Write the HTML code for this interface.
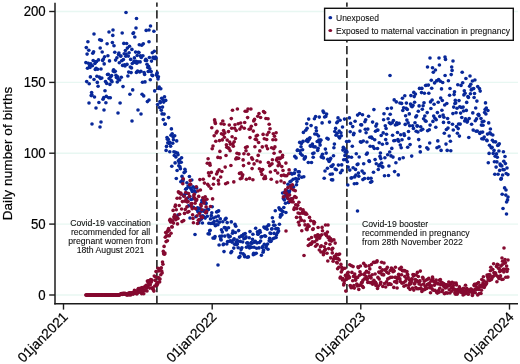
<!DOCTYPE html>
<html><head><meta charset="utf-8"><title>chart</title>
<style>
html,body{margin:0;padding:0;background:#fff;}
svg{display:block;font-family:"Liberation Sans",sans-serif;will-change:transform;opacity:0.9999;}
text{fill:#000;stroke:#000;stroke-width:0.2px;}
.sm text, text.sm{stroke-width:0.08px;fill:#111;}
</style></head><body>
<svg width="520" height="364" viewBox="0 0 520 364">
<rect width="520" height="364" fill="#fff"/>
<line x1="56" x2="518" y1="295.0" y2="295.0" stroke="#e8f7f2" stroke-width="1.4"/><line x1="56" x2="518" y1="224.1" y2="224.1" stroke="#e8f7f2" stroke-width="1.4"/><line x1="56" x2="518" y1="153.2" y2="153.2" stroke="#e8f7f2" stroke-width="1.4"/><line x1="56" x2="518" y1="82.4" y2="82.4" stroke="#e8f7f2" stroke-width="1.4"/><line x1="56" x2="518" y1="11.5" y2="11.5" stroke="#e8f7f2" stroke-width="1.4"/>
<line x1="156.9" x2="156.9" y1="2.6" y2="303.5" stroke="#111" stroke-width="1.5" stroke-dasharray="8.4 3.5" stroke-dashoffset="4.3"/>
<line x1="346.9" x2="346.9" y1="2.6" y2="303.5" stroke="#111" stroke-width="1.5" stroke-dasharray="8.4 3.5" stroke-dashoffset="4.3"/>
<g>
<circle cx="85.9" cy="62.6" r="1.82" fill="#08289a"/><circle cx="86.3" cy="47.6" r="1.82" fill="#08289a"/><circle cx="86.7" cy="81.6" r="1.82" fill="#08289a"/><circle cx="87.1" cy="54.1" r="1.82" fill="#08289a"/><circle cx="87.5" cy="68.3" r="1.82" fill="#08289a"/><circle cx="87.9" cy="41.8" r="1.82" fill="#08289a"/><circle cx="88.3" cy="63.3" r="1.82" fill="#08289a"/><circle cx="88.8" cy="50.3" r="1.82" fill="#08289a"/><circle cx="89.2" cy="83.7" r="1.82" fill="#08289a"/><circle cx="89.6" cy="65.9" r="1.82" fill="#08289a"/><circle cx="90.0" cy="67.4" r="1.82" fill="#08289a"/><circle cx="90.4" cy="76.9" r="1.82" fill="#08289a"/><circle cx="90.8" cy="63.8" r="1.82" fill="#08289a"/><circle cx="91.2" cy="95.6" r="1.82" fill="#08289a"/><circle cx="91.6" cy="92.6" r="1.82" fill="#08289a"/><circle cx="92.0" cy="95.1" r="1.82" fill="#08289a"/><circle cx="92.4" cy="65.7" r="1.82" fill="#08289a"/><circle cx="92.8" cy="53.2" r="1.82" fill="#08289a"/><circle cx="93.2" cy="60.5" r="1.82" fill="#08289a"/><circle cx="93.6" cy="51.8" r="1.82" fill="#08289a"/><circle cx="94.0" cy="79.5" r="1.82" fill="#08289a"/><circle cx="94.5" cy="97.0" r="1.82" fill="#08289a"/><circle cx="94.9" cy="63.5" r="1.82" fill="#08289a"/><circle cx="95.3" cy="69.4" r="1.82" fill="#08289a"/><circle cx="95.7" cy="61.9" r="1.82" fill="#08289a"/><circle cx="96.1" cy="68.4" r="1.82" fill="#08289a"/><circle cx="96.5" cy="61.6" r="1.82" fill="#08289a"/><circle cx="96.9" cy="76.3" r="1.82" fill="#08289a"/><circle cx="97.3" cy="82.4" r="1.82" fill="#08289a"/><circle cx="97.7" cy="69.2" r="1.82" fill="#08289a"/><circle cx="98.1" cy="86.3" r="1.82" fill="#08289a"/><circle cx="98.5" cy="59.9" r="1.82" fill="#08289a"/><circle cx="98.9" cy="102.5" r="1.82" fill="#08289a"/><circle cx="99.3" cy="77.1" r="1.82" fill="#08289a"/><circle cx="99.7" cy="39.7" r="1.82" fill="#08289a"/><circle cx="100.2" cy="48.0" r="1.82" fill="#08289a"/><circle cx="100.6" cy="78.5" r="1.82" fill="#08289a"/><circle cx="101.0" cy="69.0" r="1.82" fill="#08289a"/><circle cx="101.4" cy="40.4" r="1.82" fill="#08289a"/><circle cx="101.8" cy="78.0" r="1.82" fill="#08289a"/><circle cx="102.2" cy="52.0" r="1.82" fill="#08289a"/><circle cx="102.6" cy="60.4" r="1.82" fill="#08289a"/><circle cx="103.0" cy="99.2" r="1.82" fill="#08289a"/><circle cx="103.4" cy="59.1" r="1.82" fill="#08289a"/><circle cx="103.8" cy="97.5" r="1.82" fill="#08289a"/><circle cx="104.2" cy="63.9" r="1.82" fill="#08289a"/><circle cx="104.6" cy="56.8" r="1.82" fill="#08289a"/><circle cx="105.0" cy="90.7" r="1.82" fill="#08289a"/><circle cx="105.5" cy="81.6" r="1.82" fill="#08289a"/><circle cx="105.9" cy="102.7" r="1.82" fill="#08289a"/><circle cx="106.3" cy="96.4" r="1.82" fill="#08289a"/><circle cx="106.7" cy="83.4" r="1.82" fill="#08289a"/><circle cx="107.1" cy="43.8" r="1.82" fill="#08289a"/><circle cx="107.5" cy="74.5" r="1.82" fill="#08289a"/><circle cx="107.9" cy="55.7" r="1.82" fill="#08289a"/><circle cx="108.3" cy="74.4" r="1.82" fill="#08289a"/><circle cx="108.7" cy="97.8" r="1.82" fill="#08289a"/><circle cx="109.1" cy="78.5" r="1.82" fill="#08289a"/><circle cx="109.5" cy="60.9" r="1.82" fill="#08289a"/><circle cx="109.9" cy="84.4" r="1.82" fill="#08289a"/><circle cx="110.3" cy="97.7" r="1.82" fill="#08289a"/><circle cx="110.7" cy="76.7" r="1.82" fill="#08289a"/><circle cx="111.2" cy="80.4" r="1.82" fill="#08289a"/><circle cx="111.6" cy="75.6" r="1.82" fill="#08289a"/><circle cx="112.0" cy="81.8" r="1.82" fill="#08289a"/><circle cx="112.4" cy="42.6" r="1.82" fill="#08289a"/><circle cx="112.8" cy="35.4" r="1.82" fill="#08289a"/><circle cx="113.2" cy="71.1" r="1.82" fill="#08289a"/><circle cx="113.6" cy="69.8" r="1.82" fill="#08289a"/><circle cx="114.0" cy="45.7" r="1.82" fill="#08289a"/><circle cx="114.4" cy="71.7" r="1.82" fill="#08289a"/><circle cx="114.8" cy="52.3" r="1.82" fill="#08289a"/><circle cx="115.2" cy="71.3" r="1.82" fill="#08289a"/><circle cx="115.6" cy="60.1" r="1.82" fill="#08289a"/><circle cx="116.0" cy="75.3" r="1.82" fill="#08289a"/><circle cx="116.4" cy="77.4" r="1.82" fill="#08289a"/><circle cx="116.9" cy="57.8" r="1.82" fill="#08289a"/><circle cx="117.3" cy="82.0" r="1.82" fill="#08289a"/><circle cx="117.7" cy="76.9" r="1.82" fill="#08289a"/><circle cx="118.1" cy="79.1" r="1.82" fill="#08289a"/><circle cx="118.5" cy="54.6" r="1.82" fill="#08289a"/><circle cx="118.9" cy="53.0" r="1.82" fill="#08289a"/><circle cx="119.3" cy="62.7" r="1.82" fill="#08289a"/><circle cx="119.7" cy="80.0" r="1.82" fill="#08289a"/><circle cx="120.1" cy="103.0" r="1.82" fill="#08289a"/><circle cx="120.5" cy="56.0" r="1.82" fill="#08289a"/><circle cx="120.9" cy="56.1" r="1.82" fill="#08289a"/><circle cx="121.3" cy="77.3" r="1.82" fill="#08289a"/><circle cx="121.7" cy="60.8" r="1.82" fill="#08289a"/><circle cx="122.2" cy="33.0" r="1.82" fill="#08289a"/><circle cx="122.6" cy="65.4" r="1.82" fill="#08289a"/><circle cx="123.0" cy="86.6" r="1.82" fill="#08289a"/><circle cx="123.4" cy="59.6" r="1.82" fill="#08289a"/><circle cx="123.8" cy="43.4" r="1.82" fill="#08289a"/><circle cx="124.2" cy="53.8" r="1.82" fill="#08289a"/><circle cx="124.6" cy="64.7" r="1.82" fill="#08289a"/><circle cx="125.0" cy="65.9" r="1.82" fill="#08289a"/><circle cx="125.4" cy="50.5" r="1.82" fill="#08289a"/><circle cx="125.8" cy="56.2" r="1.82" fill="#08289a"/><circle cx="126.2" cy="54.1" r="1.82" fill="#08289a"/><circle cx="126.6" cy="43.5" r="1.82" fill="#08289a"/><circle cx="127.0" cy="64.4" r="1.82" fill="#08289a"/><circle cx="127.4" cy="48.1" r="1.82" fill="#08289a"/><circle cx="127.9" cy="76.0" r="1.82" fill="#08289a"/><circle cx="128.3" cy="56.1" r="1.82" fill="#08289a"/><circle cx="128.7" cy="72.1" r="1.82" fill="#08289a"/><circle cx="129.1" cy="52.8" r="1.82" fill="#08289a"/><circle cx="129.5" cy="46.2" r="1.82" fill="#08289a"/><circle cx="129.9" cy="94.3" r="1.82" fill="#08289a"/><circle cx="130.3" cy="67.0" r="1.82" fill="#08289a"/><circle cx="130.7" cy="59.4" r="1.82" fill="#08289a"/><circle cx="131.1" cy="72.6" r="1.82" fill="#08289a"/><circle cx="131.5" cy="67.9" r="1.82" fill="#08289a"/><circle cx="131.9" cy="49.4" r="1.82" fill="#08289a"/><circle cx="132.3" cy="63.5" r="1.82" fill="#08289a"/><circle cx="132.7" cy="89.9" r="1.82" fill="#08289a"/><circle cx="133.1" cy="33.5" r="1.82" fill="#08289a"/><circle cx="133.6" cy="32.8" r="1.82" fill="#08289a"/><circle cx="134.0" cy="61.3" r="1.82" fill="#08289a"/><circle cx="134.4" cy="57.9" r="1.82" fill="#08289a"/><circle cx="134.8" cy="37.0" r="1.82" fill="#08289a"/><circle cx="135.2" cy="62.4" r="1.82" fill="#08289a"/><circle cx="135.6" cy="52.1" r="1.82" fill="#08289a"/><circle cx="136.0" cy="61.3" r="1.82" fill="#08289a"/><circle cx="136.4" cy="72.4" r="1.82" fill="#08289a"/><circle cx="136.8" cy="63.3" r="1.82" fill="#08289a"/><circle cx="137.2" cy="55.5" r="1.82" fill="#08289a"/><circle cx="137.6" cy="71.1" r="1.82" fill="#08289a"/><circle cx="138.0" cy="61.8" r="1.82" fill="#08289a"/><circle cx="138.4" cy="52.3" r="1.82" fill="#08289a"/><circle cx="138.9" cy="52.6" r="1.82" fill="#08289a"/><circle cx="139.3" cy="44.7" r="1.82" fill="#08289a"/><circle cx="139.7" cy="72.0" r="1.82" fill="#08289a"/><circle cx="140.1" cy="61.9" r="1.82" fill="#08289a"/><circle cx="140.5" cy="55.9" r="1.82" fill="#08289a"/><circle cx="140.9" cy="71.2" r="1.82" fill="#08289a"/><circle cx="141.3" cy="57.4" r="1.82" fill="#08289a"/><circle cx="141.7" cy="45.3" r="1.82" fill="#08289a"/><circle cx="142.1" cy="94.3" r="1.82" fill="#08289a"/><circle cx="142.5" cy="82.2" r="1.82" fill="#08289a"/><circle cx="142.9" cy="55.7" r="1.82" fill="#08289a"/><circle cx="143.3" cy="43.7" r="1.82" fill="#08289a"/><circle cx="143.7" cy="95.9" r="1.82" fill="#08289a"/><circle cx="144.1" cy="72.6" r="1.82" fill="#08289a"/><circle cx="144.6" cy="74.4" r="1.82" fill="#08289a"/><circle cx="145.0" cy="81.9" r="1.82" fill="#08289a"/><circle cx="145.4" cy="60.5" r="1.82" fill="#08289a"/><circle cx="145.8" cy="59.3" r="1.82" fill="#08289a"/><circle cx="146.2" cy="30.4" r="1.82" fill="#08289a"/><circle cx="146.6" cy="60.5" r="1.82" fill="#08289a"/><circle cx="147.0" cy="64.3" r="1.82" fill="#08289a"/><circle cx="147.4" cy="101.6" r="1.82" fill="#08289a"/><circle cx="147.8" cy="67.4" r="1.82" fill="#08289a"/><circle cx="148.2" cy="71.5" r="1.82" fill="#08289a"/><circle cx="148.6" cy="66.3" r="1.82" fill="#08289a"/><circle cx="149.0" cy="41.8" r="1.82" fill="#08289a"/><circle cx="149.4" cy="57.5" r="1.82" fill="#08289a"/><circle cx="149.8" cy="68.8" r="1.82" fill="#08289a"/><circle cx="150.3" cy="79.7" r="1.82" fill="#08289a"/><circle cx="150.7" cy="71.5" r="1.82" fill="#08289a"/><circle cx="151.1" cy="71.5" r="1.82" fill="#08289a"/><circle cx="151.5" cy="61.1" r="1.82" fill="#08289a"/><circle cx="151.9" cy="75.1" r="1.82" fill="#08289a"/><circle cx="152.3" cy="52.8" r="1.82" fill="#08289a"/><circle cx="152.7" cy="75.6" r="1.82" fill="#08289a"/><circle cx="153.1" cy="57.4" r="1.82" fill="#08289a"/><circle cx="153.5" cy="58.2" r="1.82" fill="#08289a"/><circle cx="153.9" cy="31.2" r="1.82" fill="#08289a"/><circle cx="154.3" cy="51.2" r="1.82" fill="#08289a"/><circle cx="154.7" cy="90.9" r="1.82" fill="#08289a"/><circle cx="155.1" cy="58.6" r="1.82" fill="#08289a"/><circle cx="155.5" cy="57.0" r="1.82" fill="#08289a"/><circle cx="156.0" cy="57.7" r="1.82" fill="#08289a"/><circle cx="156.4" cy="75.1" r="1.82" fill="#08289a"/><circle cx="156.8" cy="74.1" r="1.82" fill="#08289a"/><circle cx="157.2" cy="72.9" r="1.82" fill="#08289a"/><circle cx="157.6" cy="104.6" r="1.82" fill="#08289a"/><circle cx="158.0" cy="78.9" r="1.82" fill="#08289a"/><circle cx="158.4" cy="76.7" r="1.82" fill="#08289a"/><circle cx="158.8" cy="88.5" r="1.82" fill="#08289a"/><circle cx="159.2" cy="87.0" r="1.82" fill="#08289a"/><circle cx="159.6" cy="107.6" r="1.82" fill="#08289a"/><circle cx="160.0" cy="101.5" r="1.82" fill="#08289a"/><circle cx="160.4" cy="102.6" r="1.82" fill="#08289a"/><circle cx="160.8" cy="88.7" r="1.82" fill="#08289a"/><circle cx="161.3" cy="110.2" r="1.82" fill="#08289a"/><circle cx="161.7" cy="98.3" r="1.82" fill="#08289a"/><circle cx="162.1" cy="113.9" r="1.82" fill="#08289a"/><circle cx="162.5" cy="107.1" r="1.82" fill="#08289a"/><circle cx="162.9" cy="99.8" r="1.82" fill="#08289a"/><circle cx="163.3" cy="119.6" r="1.82" fill="#08289a"/><circle cx="163.7" cy="102.1" r="1.82" fill="#08289a"/><circle cx="164.1" cy="114.1" r="1.82" fill="#08289a"/><circle cx="164.5" cy="96.7" r="1.82" fill="#08289a"/><circle cx="164.9" cy="124.2" r="1.82" fill="#08289a"/><circle cx="165.3" cy="124.0" r="1.82" fill="#08289a"/><circle cx="165.7" cy="100.4" r="1.82" fill="#08289a"/><circle cx="166.1" cy="150.4" r="1.82" fill="#08289a"/><circle cx="166.5" cy="146.4" r="1.82" fill="#08289a"/><circle cx="167.0" cy="137.6" r="1.82" fill="#08289a"/><circle cx="167.4" cy="139.3" r="1.82" fill="#08289a"/><circle cx="167.8" cy="142.7" r="1.82" fill="#08289a"/><circle cx="168.2" cy="139.2" r="1.82" fill="#08289a"/><circle cx="168.6" cy="117.6" r="1.82" fill="#08289a"/><circle cx="169.0" cy="143.5" r="1.82" fill="#08289a"/><circle cx="169.4" cy="142.0" r="1.82" fill="#08289a"/><circle cx="169.8" cy="151.7" r="1.82" fill="#08289a"/><circle cx="170.2" cy="142.9" r="1.82" fill="#08289a"/><circle cx="170.6" cy="146.2" r="1.82" fill="#08289a"/><circle cx="171.0" cy="135.2" r="1.82" fill="#08289a"/><circle cx="171.4" cy="128.9" r="1.82" fill="#08289a"/><circle cx="171.8" cy="166.3" r="1.82" fill="#08289a"/><circle cx="172.2" cy="133.7" r="1.82" fill="#08289a"/><circle cx="172.7" cy="143.3" r="1.82" fill="#08289a"/><circle cx="173.1" cy="137.1" r="1.82" fill="#08289a"/><circle cx="173.5" cy="139.7" r="1.82" fill="#08289a"/><circle cx="173.9" cy="151.8" r="1.82" fill="#08289a"/><circle cx="174.3" cy="155.5" r="1.82" fill="#08289a"/><circle cx="174.7" cy="135.7" r="1.82" fill="#08289a"/><circle cx="175.1" cy="162.9" r="1.82" fill="#08289a"/><circle cx="175.5" cy="152.4" r="1.82" fill="#08289a"/><circle cx="175.9" cy="156.9" r="1.82" fill="#08289a"/><circle cx="176.3" cy="178.5" r="1.82" fill="#08289a"/><circle cx="176.7" cy="140.9" r="1.82" fill="#08289a"/><circle cx="177.1" cy="170.5" r="1.82" fill="#08289a"/><circle cx="177.5" cy="153.0" r="1.82" fill="#08289a"/><circle cx="178.0" cy="154.8" r="1.82" fill="#08289a"/><circle cx="178.4" cy="160.7" r="1.82" fill="#08289a"/><circle cx="178.8" cy="165.7" r="1.82" fill="#08289a"/><circle cx="179.2" cy="162.8" r="1.82" fill="#08289a"/><circle cx="179.6" cy="159.6" r="1.82" fill="#08289a"/><circle cx="180.0" cy="166.9" r="1.82" fill="#08289a"/><circle cx="180.4" cy="168.7" r="1.82" fill="#08289a"/><circle cx="180.8" cy="181.8" r="1.82" fill="#08289a"/><circle cx="181.2" cy="162.2" r="1.82" fill="#08289a"/><circle cx="181.6" cy="157.8" r="1.82" fill="#08289a"/><circle cx="182.0" cy="176.4" r="1.82" fill="#08289a"/><circle cx="182.4" cy="180.0" r="1.82" fill="#08289a"/><circle cx="182.8" cy="181.8" r="1.82" fill="#08289a"/><circle cx="183.2" cy="179.8" r="1.82" fill="#08289a"/><circle cx="183.7" cy="195.9" r="1.82" fill="#08289a"/><circle cx="184.1" cy="172.6" r="1.82" fill="#08289a"/><circle cx="184.5" cy="194.8" r="1.82" fill="#08289a"/><circle cx="184.9" cy="169.2" r="1.82" fill="#08289a"/><circle cx="185.3" cy="171.6" r="1.82" fill="#08289a"/><circle cx="185.7" cy="189.3" r="1.82" fill="#08289a"/><circle cx="186.1" cy="193.3" r="1.82" fill="#08289a"/><circle cx="186.5" cy="188.5" r="1.82" fill="#08289a"/><circle cx="186.9" cy="182.7" r="1.82" fill="#08289a"/><circle cx="187.3" cy="193.3" r="1.82" fill="#08289a"/><circle cx="187.7" cy="198.1" r="1.82" fill="#08289a"/><circle cx="188.1" cy="186.1" r="1.82" fill="#08289a"/><circle cx="188.5" cy="205.9" r="1.82" fill="#08289a"/><circle cx="188.9" cy="187.0" r="1.82" fill="#08289a"/><circle cx="189.4" cy="176.5" r="1.82" fill="#08289a"/><circle cx="189.8" cy="196.2" r="1.82" fill="#08289a"/><circle cx="190.2" cy="184.3" r="1.82" fill="#08289a"/><circle cx="190.6" cy="188.1" r="1.82" fill="#08289a"/><circle cx="191.0" cy="199.5" r="1.82" fill="#08289a"/><circle cx="191.4" cy="189.5" r="1.82" fill="#08289a"/><circle cx="191.8" cy="180.0" r="1.82" fill="#08289a"/><circle cx="192.2" cy="191.5" r="1.82" fill="#08289a"/><circle cx="192.6" cy="199.0" r="1.82" fill="#08289a"/><circle cx="193.0" cy="186.9" r="1.82" fill="#08289a"/><circle cx="193.4" cy="207.4" r="1.82" fill="#08289a"/><circle cx="193.8" cy="198.2" r="1.82" fill="#08289a"/><circle cx="194.2" cy="190.9" r="1.82" fill="#08289a"/><circle cx="194.7" cy="187.8" r="1.82" fill="#08289a"/><circle cx="195.1" cy="191.8" r="1.82" fill="#08289a"/><circle cx="195.5" cy="192.0" r="1.82" fill="#08289a"/><circle cx="195.9" cy="216.8" r="1.82" fill="#08289a"/><circle cx="196.3" cy="200.3" r="1.82" fill="#08289a"/><circle cx="196.7" cy="187.9" r="1.82" fill="#08289a"/><circle cx="197.1" cy="209.7" r="1.82" fill="#08289a"/><circle cx="197.5" cy="207.9" r="1.82" fill="#08289a"/><circle cx="197.9" cy="211.8" r="1.82" fill="#08289a"/><circle cx="198.3" cy="208.5" r="1.82" fill="#08289a"/><circle cx="198.7" cy="223.0" r="1.82" fill="#08289a"/><circle cx="199.1" cy="212.5" r="1.82" fill="#08289a"/><circle cx="199.5" cy="220.5" r="1.82" fill="#08289a"/><circle cx="199.9" cy="208.4" r="1.82" fill="#08289a"/><circle cx="200.4" cy="211.7" r="1.82" fill="#08289a"/><circle cx="200.8" cy="216.1" r="1.82" fill="#08289a"/><circle cx="201.2" cy="219.2" r="1.82" fill="#08289a"/><circle cx="201.6" cy="202.7" r="1.82" fill="#08289a"/><circle cx="202.0" cy="200.2" r="1.82" fill="#08289a"/><circle cx="202.4" cy="223.0" r="1.82" fill="#08289a"/><circle cx="202.8" cy="215.9" r="1.82" fill="#08289a"/><circle cx="203.2" cy="211.1" r="1.82" fill="#08289a"/><circle cx="203.6" cy="216.9" r="1.82" fill="#08289a"/><circle cx="204.0" cy="210.3" r="1.82" fill="#08289a"/><circle cx="204.4" cy="217.2" r="1.82" fill="#08289a"/><circle cx="204.8" cy="211.5" r="1.82" fill="#08289a"/><circle cx="205.2" cy="218.1" r="1.82" fill="#08289a"/><circle cx="205.6" cy="202.8" r="1.82" fill="#08289a"/><circle cx="206.1" cy="203.5" r="1.82" fill="#08289a"/><circle cx="206.5" cy="212.7" r="1.82" fill="#08289a"/><circle cx="206.9" cy="210.1" r="1.82" fill="#08289a"/><circle cx="207.3" cy="216.2" r="1.82" fill="#08289a"/><circle cx="207.7" cy="209.2" r="1.82" fill="#08289a"/><circle cx="208.1" cy="233.7" r="1.82" fill="#08289a"/><circle cx="208.5" cy="209.6" r="1.82" fill="#08289a"/><circle cx="208.9" cy="223.2" r="1.82" fill="#08289a"/><circle cx="209.3" cy="233.9" r="1.82" fill="#08289a"/><circle cx="209.7" cy="230.7" r="1.82" fill="#08289a"/><circle cx="210.1" cy="230.3" r="1.82" fill="#08289a"/><circle cx="210.5" cy="218.9" r="1.82" fill="#08289a"/><circle cx="210.9" cy="223.5" r="1.82" fill="#08289a"/><circle cx="211.3" cy="215.6" r="1.82" fill="#08289a"/><circle cx="211.8" cy="212.7" r="1.82" fill="#08289a"/><circle cx="212.2" cy="206.7" r="1.82" fill="#08289a"/><circle cx="212.6" cy="223.1" r="1.82" fill="#08289a"/><circle cx="213.0" cy="238.1" r="1.82" fill="#08289a"/><circle cx="213.4" cy="218.0" r="1.82" fill="#08289a"/><circle cx="213.8" cy="223.7" r="1.82" fill="#08289a"/><circle cx="214.2" cy="221.5" r="1.82" fill="#08289a"/><circle cx="214.6" cy="238.1" r="1.82" fill="#08289a"/><circle cx="215.0" cy="236.6" r="1.82" fill="#08289a"/><circle cx="215.4" cy="225.8" r="1.82" fill="#08289a"/><circle cx="215.8" cy="217.0" r="1.82" fill="#08289a"/><circle cx="216.2" cy="224.8" r="1.82" fill="#08289a"/><circle cx="216.6" cy="212.0" r="1.82" fill="#08289a"/><circle cx="217.1" cy="220.9" r="1.82" fill="#08289a"/><circle cx="217.5" cy="211.5" r="1.82" fill="#08289a"/><circle cx="217.9" cy="224.7" r="1.82" fill="#08289a"/><circle cx="218.3" cy="216.1" r="1.82" fill="#08289a"/><circle cx="218.7" cy="210.9" r="1.82" fill="#08289a"/><circle cx="219.1" cy="245.0" r="1.82" fill="#08289a"/><circle cx="219.5" cy="222.3" r="1.82" fill="#08289a"/><circle cx="219.9" cy="236.2" r="1.82" fill="#08289a"/><circle cx="220.3" cy="218.9" r="1.82" fill="#08289a"/><circle cx="220.7" cy="238.9" r="1.82" fill="#08289a"/><circle cx="221.1" cy="240.0" r="1.82" fill="#08289a"/><circle cx="221.5" cy="229.7" r="1.82" fill="#08289a"/><circle cx="221.9" cy="236.1" r="1.82" fill="#08289a"/><circle cx="222.3" cy="232.0" r="1.82" fill="#08289a"/><circle cx="222.8" cy="221.7" r="1.82" fill="#08289a"/><circle cx="223.2" cy="244.8" r="1.82" fill="#08289a"/><circle cx="223.6" cy="244.0" r="1.82" fill="#08289a"/><circle cx="224.0" cy="251.6" r="1.82" fill="#08289a"/><circle cx="224.4" cy="227.6" r="1.82" fill="#08289a"/><circle cx="224.8" cy="236.1" r="1.82" fill="#08289a"/><circle cx="225.2" cy="219.4" r="1.82" fill="#08289a"/><circle cx="225.6" cy="227.9" r="1.82" fill="#08289a"/><circle cx="226.0" cy="218.3" r="1.82" fill="#08289a"/><circle cx="226.4" cy="230.0" r="1.82" fill="#08289a"/><circle cx="226.8" cy="244.0" r="1.82" fill="#08289a"/><circle cx="227.2" cy="222.6" r="1.82" fill="#08289a"/><circle cx="227.6" cy="241.6" r="1.82" fill="#08289a"/><circle cx="228.0" cy="235.0" r="1.82" fill="#08289a"/><circle cx="228.5" cy="227.7" r="1.82" fill="#08289a"/><circle cx="228.9" cy="237.0" r="1.82" fill="#08289a"/><circle cx="229.3" cy="241.2" r="1.82" fill="#08289a"/><circle cx="229.7" cy="236.4" r="1.82" fill="#08289a"/><circle cx="230.1" cy="236.5" r="1.82" fill="#08289a"/><circle cx="230.5" cy="240.9" r="1.82" fill="#08289a"/><circle cx="230.9" cy="252.8" r="1.82" fill="#08289a"/><circle cx="231.3" cy="221.9" r="1.82" fill="#08289a"/><circle cx="231.7" cy="251.5" r="1.82" fill="#08289a"/><circle cx="232.1" cy="242.2" r="1.82" fill="#08289a"/><circle cx="232.5" cy="233.2" r="1.82" fill="#08289a"/><circle cx="232.9" cy="231.0" r="1.82" fill="#08289a"/><circle cx="233.3" cy="240.0" r="1.82" fill="#08289a"/><circle cx="233.8" cy="248.1" r="1.82" fill="#08289a"/><circle cx="234.2" cy="238.9" r="1.82" fill="#08289a"/><circle cx="234.6" cy="244.2" r="1.82" fill="#08289a"/><circle cx="235.0" cy="224.4" r="1.82" fill="#08289a"/><circle cx="235.4" cy="232.5" r="1.82" fill="#08289a"/><circle cx="235.8" cy="226.3" r="1.82" fill="#08289a"/><circle cx="236.2" cy="242.1" r="1.82" fill="#08289a"/><circle cx="236.6" cy="244.8" r="1.82" fill="#08289a"/><circle cx="237.0" cy="240.1" r="1.82" fill="#08289a"/><circle cx="237.4" cy="243.9" r="1.82" fill="#08289a"/><circle cx="237.8" cy="241.3" r="1.82" fill="#08289a"/><circle cx="238.2" cy="247.8" r="1.82" fill="#08289a"/><circle cx="238.6" cy="230.6" r="1.82" fill="#08289a"/><circle cx="239.0" cy="257.4" r="1.82" fill="#08289a"/><circle cx="239.5" cy="237.1" r="1.82" fill="#08289a"/><circle cx="239.9" cy="256.6" r="1.82" fill="#08289a"/><circle cx="240.3" cy="241.4" r="1.82" fill="#08289a"/><circle cx="240.7" cy="253.0" r="1.82" fill="#08289a"/><circle cx="241.1" cy="249.4" r="1.82" fill="#08289a"/><circle cx="241.5" cy="235.9" r="1.82" fill="#08289a"/><circle cx="241.9" cy="247.8" r="1.82" fill="#08289a"/><circle cx="242.3" cy="236.2" r="1.82" fill="#08289a"/><circle cx="242.7" cy="242.0" r="1.82" fill="#08289a"/><circle cx="243.1" cy="253.8" r="1.82" fill="#08289a"/><circle cx="243.5" cy="234.4" r="1.82" fill="#08289a"/><circle cx="243.9" cy="238.8" r="1.82" fill="#08289a"/><circle cx="244.3" cy="255.1" r="1.82" fill="#08289a"/><circle cx="244.7" cy="256.7" r="1.82" fill="#08289a"/><circle cx="245.2" cy="233.6" r="1.82" fill="#08289a"/><circle cx="245.6" cy="238.1" r="1.82" fill="#08289a"/><circle cx="246.0" cy="236.9" r="1.82" fill="#08289a"/><circle cx="246.4" cy="247.3" r="1.82" fill="#08289a"/><circle cx="246.8" cy="243.0" r="1.82" fill="#08289a"/><circle cx="247.2" cy="257.2" r="1.82" fill="#08289a"/><circle cx="247.6" cy="242.9" r="1.82" fill="#08289a"/><circle cx="248.0" cy="246.6" r="1.82" fill="#08289a"/><circle cx="248.4" cy="256.9" r="1.82" fill="#08289a"/><circle cx="248.8" cy="245.9" r="1.82" fill="#08289a"/><circle cx="249.2" cy="237.8" r="1.82" fill="#08289a"/><circle cx="249.6" cy="248.0" r="1.82" fill="#08289a"/><circle cx="250.0" cy="231.6" r="1.82" fill="#08289a"/><circle cx="250.5" cy="246.9" r="1.82" fill="#08289a"/><circle cx="250.9" cy="243.3" r="1.82" fill="#08289a"/><circle cx="251.3" cy="242.6" r="1.82" fill="#08289a"/><circle cx="251.7" cy="247.3" r="1.82" fill="#08289a"/><circle cx="252.1" cy="243.2" r="1.82" fill="#08289a"/><circle cx="252.5" cy="239.4" r="1.82" fill="#08289a"/><circle cx="252.9" cy="234.3" r="1.82" fill="#08289a"/><circle cx="253.3" cy="254.7" r="1.82" fill="#08289a"/><circle cx="253.7" cy="253.2" r="1.82" fill="#08289a"/><circle cx="254.1" cy="247.2" r="1.82" fill="#08289a"/><circle cx="254.5" cy="242.2" r="1.82" fill="#08289a"/><circle cx="254.9" cy="254.0" r="1.82" fill="#08289a"/><circle cx="255.3" cy="241.2" r="1.82" fill="#08289a"/><circle cx="255.7" cy="228.2" r="1.82" fill="#08289a"/><circle cx="256.2" cy="253.3" r="1.82" fill="#08289a"/><circle cx="256.6" cy="248.2" r="1.82" fill="#08289a"/><circle cx="257.0" cy="242.9" r="1.82" fill="#08289a"/><circle cx="257.4" cy="231.8" r="1.82" fill="#08289a"/><circle cx="257.8" cy="234.2" r="1.82" fill="#08289a"/><circle cx="258.2" cy="234.0" r="1.82" fill="#08289a"/><circle cx="258.6" cy="233.6" r="1.82" fill="#08289a"/><circle cx="259.0" cy="247.9" r="1.82" fill="#08289a"/><circle cx="259.4" cy="242.5" r="1.82" fill="#08289a"/><circle cx="259.8" cy="230.5" r="1.82" fill="#08289a"/><circle cx="260.2" cy="232.3" r="1.82" fill="#08289a"/><circle cx="260.6" cy="241.0" r="1.82" fill="#08289a"/><circle cx="261.0" cy="237.1" r="1.82" fill="#08289a"/><circle cx="261.4" cy="255.2" r="1.82" fill="#08289a"/><circle cx="261.9" cy="236.5" r="1.82" fill="#08289a"/><circle cx="262.3" cy="247.6" r="1.82" fill="#08289a"/><circle cx="262.7" cy="246.5" r="1.82" fill="#08289a"/><circle cx="263.1" cy="252.2" r="1.82" fill="#08289a"/><circle cx="263.5" cy="250.4" r="1.82" fill="#08289a"/><circle cx="263.9" cy="227.1" r="1.82" fill="#08289a"/><circle cx="264.3" cy="244.3" r="1.82" fill="#08289a"/><circle cx="264.7" cy="235.7" r="1.82" fill="#08289a"/><circle cx="265.1" cy="228.3" r="1.82" fill="#08289a"/><circle cx="265.5" cy="236.2" r="1.82" fill="#08289a"/><circle cx="265.9" cy="247.7" r="1.82" fill="#08289a"/><circle cx="266.3" cy="246.1" r="1.82" fill="#08289a"/><circle cx="266.7" cy="226.8" r="1.82" fill="#08289a"/><circle cx="267.1" cy="229.2" r="1.82" fill="#08289a"/><circle cx="267.6" cy="244.0" r="1.82" fill="#08289a"/><circle cx="268.0" cy="249.2" r="1.82" fill="#08289a"/><circle cx="268.4" cy="225.0" r="1.82" fill="#08289a"/><circle cx="268.8" cy="225.1" r="1.82" fill="#08289a"/><circle cx="269.2" cy="240.8" r="1.82" fill="#08289a"/><circle cx="269.6" cy="238.4" r="1.82" fill="#08289a"/><circle cx="270.0" cy="233.0" r="1.82" fill="#08289a"/><circle cx="270.4" cy="241.4" r="1.82" fill="#08289a"/><circle cx="270.8" cy="233.5" r="1.82" fill="#08289a"/><circle cx="271.2" cy="241.1" r="1.82" fill="#08289a"/><circle cx="271.6" cy="229.0" r="1.82" fill="#08289a"/><circle cx="272.0" cy="228.8" r="1.82" fill="#08289a"/><circle cx="272.4" cy="217.7" r="1.82" fill="#08289a"/><circle cx="272.9" cy="238.7" r="1.82" fill="#08289a"/><circle cx="273.3" cy="221.8" r="1.82" fill="#08289a"/><circle cx="273.7" cy="225.2" r="1.82" fill="#08289a"/><circle cx="274.1" cy="233.4" r="1.82" fill="#08289a"/><circle cx="274.5" cy="238.0" r="1.82" fill="#08289a"/><circle cx="274.9" cy="225.3" r="1.82" fill="#08289a"/><circle cx="275.3" cy="210.7" r="1.82" fill="#08289a"/><circle cx="275.7" cy="228.7" r="1.82" fill="#08289a"/><circle cx="276.1" cy="237.5" r="1.82" fill="#08289a"/><circle cx="276.5" cy="234.7" r="1.82" fill="#08289a"/><circle cx="276.9" cy="228.8" r="1.82" fill="#08289a"/><circle cx="277.3" cy="228.5" r="1.82" fill="#08289a"/><circle cx="277.7" cy="232.5" r="1.82" fill="#08289a"/><circle cx="278.1" cy="228.8" r="1.82" fill="#08289a"/><circle cx="278.6" cy="231.0" r="1.82" fill="#08289a"/><circle cx="279.0" cy="207.8" r="1.82" fill="#08289a"/><circle cx="279.4" cy="224.2" r="1.82" fill="#08289a"/><circle cx="279.8" cy="209.6" r="1.82" fill="#08289a"/><circle cx="280.2" cy="217.1" r="1.82" fill="#08289a"/><circle cx="280.6" cy="214.7" r="1.82" fill="#08289a"/><circle cx="281.0" cy="209.6" r="1.82" fill="#08289a"/><circle cx="281.4" cy="215.2" r="1.82" fill="#08289a"/><circle cx="281.8" cy="214.5" r="1.82" fill="#08289a"/><circle cx="282.2" cy="211.2" r="1.82" fill="#08289a"/><circle cx="282.6" cy="193.0" r="1.82" fill="#08289a"/><circle cx="283.0" cy="211.5" r="1.82" fill="#08289a"/><circle cx="283.4" cy="198.5" r="1.82" fill="#08289a"/><circle cx="283.8" cy="207.5" r="1.82" fill="#08289a"/><circle cx="284.3" cy="200.0" r="1.82" fill="#08289a"/><circle cx="284.7" cy="192.0" r="1.82" fill="#08289a"/><circle cx="285.1" cy="195.9" r="1.82" fill="#08289a"/><circle cx="285.5" cy="203.3" r="1.82" fill="#08289a"/><circle cx="285.9" cy="212.5" r="1.82" fill="#08289a"/><circle cx="286.3" cy="193.8" r="1.82" fill="#08289a"/><circle cx="286.7" cy="190.5" r="1.82" fill="#08289a"/><circle cx="287.1" cy="198.0" r="1.82" fill="#08289a"/><circle cx="287.5" cy="192.1" r="1.82" fill="#08289a"/><circle cx="287.9" cy="184.2" r="1.82" fill="#08289a"/><circle cx="288.3" cy="202.4" r="1.82" fill="#08289a"/><circle cx="288.7" cy="202.4" r="1.82" fill="#08289a"/><circle cx="289.1" cy="192.8" r="1.82" fill="#08289a"/><circle cx="289.6" cy="191.1" r="1.82" fill="#08289a"/><circle cx="290.0" cy="181.8" r="1.82" fill="#08289a"/><circle cx="290.4" cy="185.2" r="1.82" fill="#08289a"/><circle cx="290.8" cy="173.2" r="1.82" fill="#08289a"/><circle cx="291.2" cy="181.0" r="1.82" fill="#08289a"/><circle cx="291.6" cy="198.7" r="1.82" fill="#08289a"/><circle cx="292.0" cy="174.1" r="1.82" fill="#08289a"/><circle cx="292.4" cy="187.1" r="1.82" fill="#08289a"/><circle cx="292.8" cy="186.4" r="1.82" fill="#08289a"/><circle cx="293.2" cy="179.2" r="1.82" fill="#08289a"/><circle cx="293.6" cy="187.0" r="1.82" fill="#08289a"/><circle cx="294.0" cy="173.4" r="1.82" fill="#08289a"/><circle cx="294.4" cy="173.1" r="1.82" fill="#08289a"/><circle cx="294.8" cy="156.4" r="1.82" fill="#08289a"/><circle cx="295.3" cy="169.7" r="1.82" fill="#08289a"/><circle cx="295.7" cy="178.6" r="1.82" fill="#08289a"/><circle cx="296.1" cy="157.9" r="1.82" fill="#08289a"/><circle cx="296.5" cy="184.7" r="1.82" fill="#08289a"/><circle cx="296.9" cy="181.5" r="1.82" fill="#08289a"/><circle cx="297.3" cy="150.4" r="1.82" fill="#08289a"/><circle cx="297.7" cy="150.1" r="1.82" fill="#08289a"/><circle cx="298.1" cy="171.7" r="1.82" fill="#08289a"/><circle cx="298.5" cy="178.7" r="1.82" fill="#08289a"/><circle cx="298.9" cy="175.5" r="1.82" fill="#08289a"/><circle cx="299.3" cy="171.9" r="1.82" fill="#08289a"/><circle cx="299.7" cy="142.4" r="1.82" fill="#08289a"/><circle cx="300.1" cy="150.7" r="1.82" fill="#08289a"/><circle cx="300.5" cy="153.6" r="1.82" fill="#08289a"/><circle cx="301.0" cy="146.8" r="1.82" fill="#08289a"/><circle cx="301.4" cy="143.4" r="1.82" fill="#08289a"/><circle cx="301.8" cy="177.3" r="1.82" fill="#08289a"/><circle cx="302.2" cy="155.3" r="1.82" fill="#08289a"/><circle cx="302.6" cy="149.7" r="1.82" fill="#08289a"/><circle cx="303.0" cy="141.4" r="1.82" fill="#08289a"/><circle cx="303.4" cy="132.4" r="1.82" fill="#08289a"/><circle cx="303.8" cy="176.8" r="1.82" fill="#08289a"/><circle cx="304.2" cy="159.1" r="1.82" fill="#08289a"/><circle cx="304.6" cy="157.7" r="1.82" fill="#08289a"/><circle cx="305.0" cy="158.1" r="1.82" fill="#08289a"/><circle cx="305.4" cy="156.9" r="1.82" fill="#08289a"/><circle cx="305.8" cy="130.3" r="1.82" fill="#08289a"/><circle cx="306.3" cy="140.8" r="1.82" fill="#08289a"/><circle cx="306.7" cy="123.8" r="1.82" fill="#08289a"/><circle cx="307.1" cy="128.2" r="1.82" fill="#08289a"/><circle cx="307.5" cy="139.4" r="1.82" fill="#08289a"/><circle cx="307.9" cy="141.6" r="1.82" fill="#08289a"/><circle cx="308.3" cy="162.5" r="1.82" fill="#08289a"/><circle cx="308.7" cy="119.1" r="1.82" fill="#08289a"/><circle cx="309.1" cy="139.4" r="1.82" fill="#08289a"/><circle cx="309.5" cy="138.5" r="1.82" fill="#08289a"/><circle cx="309.9" cy="137.8" r="1.82" fill="#08289a"/><circle cx="310.3" cy="145.7" r="1.82" fill="#08289a"/><circle cx="310.7" cy="146.2" r="1.82" fill="#08289a"/><circle cx="311.1" cy="125.6" r="1.82" fill="#08289a"/><circle cx="311.5" cy="162.5" r="1.82" fill="#08289a"/><circle cx="312.0" cy="145.2" r="1.82" fill="#08289a"/><circle cx="312.4" cy="144.0" r="1.82" fill="#08289a"/><circle cx="312.8" cy="153.6" r="1.82" fill="#08289a"/><circle cx="313.2" cy="157.2" r="1.82" fill="#08289a"/><circle cx="313.6" cy="146.7" r="1.82" fill="#08289a"/><circle cx="314.0" cy="153.0" r="1.82" fill="#08289a"/><circle cx="314.4" cy="118.7" r="1.82" fill="#08289a"/><circle cx="314.8" cy="134.0" r="1.82" fill="#08289a"/><circle cx="315.2" cy="146.9" r="1.82" fill="#08289a"/><circle cx="315.6" cy="116.5" r="1.82" fill="#08289a"/><circle cx="316.0" cy="127.8" r="1.82" fill="#08289a"/><circle cx="316.4" cy="130.7" r="1.82" fill="#08289a"/><circle cx="316.8" cy="134.3" r="1.82" fill="#08289a"/><circle cx="317.2" cy="141.5" r="1.82" fill="#08289a"/><circle cx="317.7" cy="150.4" r="1.82" fill="#08289a"/><circle cx="318.1" cy="148.2" r="1.82" fill="#08289a"/><circle cx="318.5" cy="136.0" r="1.82" fill="#08289a"/><circle cx="318.9" cy="140.0" r="1.82" fill="#08289a"/><circle cx="319.3" cy="117.1" r="1.82" fill="#08289a"/><circle cx="319.7" cy="142.4" r="1.82" fill="#08289a"/><circle cx="320.1" cy="145.1" r="1.82" fill="#08289a"/><circle cx="320.5" cy="140.3" r="1.82" fill="#08289a"/><circle cx="320.9" cy="140.1" r="1.82" fill="#08289a"/><circle cx="321.3" cy="157.1" r="1.82" fill="#08289a"/><circle cx="321.7" cy="156.6" r="1.82" fill="#08289a"/><circle cx="322.1" cy="122.9" r="1.82" fill="#08289a"/><circle cx="322.5" cy="154.3" r="1.82" fill="#08289a"/><circle cx="323.0" cy="111.1" r="1.82" fill="#08289a"/><circle cx="323.4" cy="157.9" r="1.82" fill="#08289a"/><circle cx="323.8" cy="112.6" r="1.82" fill="#08289a"/><circle cx="324.2" cy="178.3" r="1.82" fill="#08289a"/><circle cx="324.6" cy="117.0" r="1.82" fill="#08289a"/><circle cx="325.0" cy="171.0" r="1.82" fill="#08289a"/><circle cx="325.4" cy="149.1" r="1.82" fill="#08289a"/><circle cx="325.8" cy="116.4" r="1.82" fill="#08289a"/><circle cx="326.2" cy="153.1" r="1.82" fill="#08289a"/><circle cx="326.6" cy="114.1" r="1.82" fill="#08289a"/><circle cx="327.0" cy="138.3" r="1.82" fill="#08289a"/><circle cx="327.4" cy="168.2" r="1.82" fill="#08289a"/><circle cx="327.8" cy="159.3" r="1.82" fill="#08289a"/><circle cx="328.2" cy="139.1" r="1.82" fill="#08289a"/><circle cx="328.7" cy="160.1" r="1.82" fill="#08289a"/><circle cx="329.1" cy="161.5" r="1.82" fill="#08289a"/><circle cx="329.5" cy="122.1" r="1.82" fill="#08289a"/><circle cx="329.9" cy="160.1" r="1.82" fill="#08289a"/><circle cx="330.3" cy="174.2" r="1.82" fill="#08289a"/><circle cx="330.7" cy="158.4" r="1.82" fill="#08289a"/><circle cx="331.1" cy="166.3" r="1.82" fill="#08289a"/><circle cx="331.5" cy="179.7" r="1.82" fill="#08289a"/><circle cx="331.9" cy="166.4" r="1.82" fill="#08289a"/><circle cx="332.3" cy="174.0" r="1.82" fill="#08289a"/><circle cx="332.7" cy="179.9" r="1.82" fill="#08289a"/><circle cx="333.1" cy="164.8" r="1.82" fill="#08289a"/><circle cx="333.5" cy="155.7" r="1.82" fill="#08289a"/><circle cx="333.9" cy="147.7" r="1.82" fill="#08289a"/><circle cx="334.4" cy="144.1" r="1.82" fill="#08289a"/><circle cx="334.8" cy="131.5" r="1.82" fill="#08289a"/><circle cx="335.2" cy="169.1" r="1.82" fill="#08289a"/><circle cx="335.6" cy="128.4" r="1.82" fill="#08289a"/><circle cx="336.0" cy="135.3" r="1.82" fill="#08289a"/><circle cx="336.4" cy="169.8" r="1.82" fill="#08289a"/><circle cx="336.8" cy="122.8" r="1.82" fill="#08289a"/><circle cx="337.2" cy="133.2" r="1.82" fill="#08289a"/><circle cx="337.6" cy="121.7" r="1.82" fill="#08289a"/><circle cx="338.0" cy="117.9" r="1.82" fill="#08289a"/><circle cx="338.4" cy="165.1" r="1.82" fill="#08289a"/><circle cx="338.8" cy="136.8" r="1.82" fill="#08289a"/><circle cx="339.2" cy="131.0" r="1.82" fill="#08289a"/><circle cx="339.6" cy="138.0" r="1.82" fill="#08289a"/><circle cx="340.1" cy="120.3" r="1.82" fill="#08289a"/><circle cx="340.5" cy="172.7" r="1.82" fill="#08289a"/><circle cx="340.9" cy="132.8" r="1.82" fill="#08289a"/><circle cx="341.3" cy="135.7" r="1.82" fill="#08289a"/><circle cx="341.7" cy="164.9" r="1.82" fill="#08289a"/><circle cx="342.1" cy="170.4" r="1.82" fill="#08289a"/><circle cx="342.5" cy="127.0" r="1.82" fill="#08289a"/><circle cx="342.9" cy="150.1" r="1.82" fill="#08289a"/><circle cx="343.3" cy="147.4" r="1.82" fill="#08289a"/><circle cx="343.7" cy="159.8" r="1.82" fill="#08289a"/><circle cx="344.1" cy="148.4" r="1.82" fill="#08289a"/><circle cx="344.5" cy="119.1" r="1.82" fill="#08289a"/><circle cx="344.9" cy="155.5" r="1.82" fill="#08289a"/><circle cx="345.4" cy="152.2" r="1.82" fill="#08289a"/><circle cx="345.8" cy="159.6" r="1.82" fill="#08289a"/><circle cx="346.2" cy="150.5" r="1.82" fill="#08289a"/><circle cx="346.6" cy="141.6" r="1.82" fill="#08289a"/><circle cx="347.0" cy="152.0" r="1.82" fill="#08289a"/><circle cx="347.4" cy="161.8" r="1.82" fill="#08289a"/><circle cx="347.8" cy="185.0" r="1.82" fill="#08289a"/><circle cx="348.2" cy="167.1" r="1.82" fill="#08289a"/><circle cx="348.6" cy="156.9" r="1.82" fill="#08289a"/><circle cx="349.0" cy="141.2" r="1.82" fill="#08289a"/><circle cx="349.4" cy="117.9" r="1.82" fill="#08289a"/><circle cx="349.8" cy="170.1" r="1.82" fill="#08289a"/><circle cx="350.2" cy="131.8" r="1.82" fill="#08289a"/><circle cx="350.6" cy="123.4" r="1.82" fill="#08289a"/><circle cx="351.1" cy="178.1" r="1.82" fill="#08289a"/><circle cx="351.5" cy="157.3" r="1.82" fill="#08289a"/><circle cx="351.9" cy="177.7" r="1.82" fill="#08289a"/><circle cx="352.3" cy="146.3" r="1.82" fill="#08289a"/><circle cx="352.7" cy="126.6" r="1.82" fill="#08289a"/><circle cx="353.1" cy="167.8" r="1.82" fill="#08289a"/><circle cx="353.5" cy="134.7" r="1.82" fill="#08289a"/><circle cx="353.9" cy="133.2" r="1.82" fill="#08289a"/><circle cx="354.3" cy="183.8" r="1.82" fill="#08289a"/><circle cx="354.7" cy="176.9" r="1.82" fill="#08289a"/><circle cx="355.1" cy="121.2" r="1.82" fill="#08289a"/><circle cx="355.5" cy="169.4" r="1.82" fill="#08289a"/><circle cx="355.9" cy="175.1" r="1.82" fill="#08289a"/><circle cx="356.3" cy="153.8" r="1.82" fill="#08289a"/><circle cx="356.8" cy="183.5" r="1.82" fill="#08289a"/><circle cx="357.2" cy="164.6" r="1.82" fill="#08289a"/><circle cx="357.6" cy="115.1" r="1.82" fill="#08289a"/><circle cx="358.0" cy="164.1" r="1.82" fill="#08289a"/><circle cx="358.4" cy="173.1" r="1.82" fill="#08289a"/><circle cx="358.8" cy="176.2" r="1.82" fill="#08289a"/><circle cx="359.2" cy="157.0" r="1.82" fill="#08289a"/><circle cx="359.6" cy="113.5" r="1.82" fill="#08289a"/><circle cx="360.0" cy="131.1" r="1.82" fill="#08289a"/><circle cx="360.4" cy="141.8" r="1.82" fill="#08289a"/><circle cx="360.8" cy="124.8" r="1.82" fill="#08289a"/><circle cx="361.2" cy="142.3" r="1.82" fill="#08289a"/><circle cx="361.6" cy="124.9" r="1.82" fill="#08289a"/><circle cx="362.1" cy="171.1" r="1.82" fill="#08289a"/><circle cx="362.5" cy="114.8" r="1.82" fill="#08289a"/><circle cx="362.9" cy="179.6" r="1.82" fill="#08289a"/><circle cx="363.3" cy="141.0" r="1.82" fill="#08289a"/><circle cx="363.7" cy="163.8" r="1.82" fill="#08289a"/><circle cx="364.1" cy="173.3" r="1.82" fill="#08289a"/><circle cx="364.5" cy="178.5" r="1.82" fill="#08289a"/><circle cx="364.9" cy="121.7" r="1.82" fill="#08289a"/><circle cx="365.3" cy="129.2" r="1.82" fill="#08289a"/><circle cx="365.7" cy="119.7" r="1.82" fill="#08289a"/><circle cx="366.1" cy="132.7" r="1.82" fill="#08289a"/><circle cx="366.5" cy="154.2" r="1.82" fill="#08289a"/><circle cx="366.9" cy="142.0" r="1.82" fill="#08289a"/><circle cx="367.3" cy="153.0" r="1.82" fill="#08289a"/><circle cx="367.8" cy="129.1" r="1.82" fill="#08289a"/><circle cx="368.2" cy="178.4" r="1.82" fill="#08289a"/><circle cx="368.6" cy="116.2" r="1.82" fill="#08289a"/><circle cx="369.0" cy="160.8" r="1.82" fill="#08289a"/><circle cx="369.4" cy="161.4" r="1.82" fill="#08289a"/><circle cx="369.8" cy="137.3" r="1.82" fill="#08289a"/><circle cx="370.2" cy="146.2" r="1.82" fill="#08289a"/><circle cx="370.6" cy="182.2" r="1.82" fill="#08289a"/><circle cx="371.0" cy="178.3" r="1.82" fill="#08289a"/><circle cx="371.4" cy="137.0" r="1.82" fill="#08289a"/><circle cx="371.8" cy="181.6" r="1.82" fill="#08289a"/><circle cx="372.2" cy="138.3" r="1.82" fill="#08289a"/><circle cx="372.6" cy="122.1" r="1.82" fill="#08289a"/><circle cx="373.0" cy="146.6" r="1.82" fill="#08289a"/><circle cx="373.5" cy="172.3" r="1.82" fill="#08289a"/><circle cx="373.9" cy="109.6" r="1.82" fill="#08289a"/><circle cx="374.3" cy="148.5" r="1.82" fill="#08289a"/><circle cx="374.7" cy="139.7" r="1.82" fill="#08289a"/><circle cx="375.1" cy="159.6" r="1.82" fill="#08289a"/><circle cx="375.5" cy="131.3" r="1.82" fill="#08289a"/><circle cx="375.9" cy="126.1" r="1.82" fill="#08289a"/><circle cx="376.3" cy="163.8" r="1.82" fill="#08289a"/><circle cx="376.7" cy="124.0" r="1.82" fill="#08289a"/><circle cx="377.1" cy="130.2" r="1.82" fill="#08289a"/><circle cx="377.5" cy="148.5" r="1.82" fill="#08289a"/><circle cx="377.9" cy="130.1" r="1.82" fill="#08289a"/><circle cx="378.3" cy="169.5" r="1.82" fill="#08289a"/><circle cx="378.8" cy="166.0" r="1.82" fill="#08289a"/><circle cx="379.2" cy="142.8" r="1.82" fill="#08289a"/><circle cx="379.6" cy="164.9" r="1.82" fill="#08289a"/><circle cx="380.0" cy="156.4" r="1.82" fill="#08289a"/><circle cx="380.4" cy="153.0" r="1.82" fill="#08289a"/><circle cx="380.8" cy="158.6" r="1.82" fill="#08289a"/><circle cx="381.2" cy="135.5" r="1.82" fill="#08289a"/><circle cx="381.6" cy="163.0" r="1.82" fill="#08289a"/><circle cx="382.0" cy="166.6" r="1.82" fill="#08289a"/><circle cx="382.4" cy="144.3" r="1.82" fill="#08289a"/><circle cx="382.8" cy="167.1" r="1.82" fill="#08289a"/><circle cx="383.2" cy="132.9" r="1.82" fill="#08289a"/><circle cx="383.6" cy="119.8" r="1.82" fill="#08289a"/><circle cx="384.0" cy="113.8" r="1.82" fill="#08289a"/><circle cx="384.5" cy="175.7" r="1.82" fill="#08289a"/><circle cx="384.9" cy="157.7" r="1.82" fill="#08289a"/><circle cx="385.3" cy="125.8" r="1.82" fill="#08289a"/><circle cx="385.7" cy="139.6" r="1.82" fill="#08289a"/><circle cx="386.1" cy="128.5" r="1.82" fill="#08289a"/><circle cx="386.5" cy="134.2" r="1.82" fill="#08289a"/><circle cx="386.9" cy="143.4" r="1.82" fill="#08289a"/><circle cx="387.3" cy="108.5" r="1.82" fill="#08289a"/><circle cx="387.7" cy="154.7" r="1.82" fill="#08289a"/><circle cx="388.1" cy="118.7" r="1.82" fill="#08289a"/><circle cx="388.5" cy="175.5" r="1.82" fill="#08289a"/><circle cx="388.9" cy="166.0" r="1.82" fill="#08289a"/><circle cx="389.3" cy="122.8" r="1.82" fill="#08289a"/><circle cx="389.7" cy="152.0" r="1.82" fill="#08289a"/><circle cx="390.2" cy="114.3" r="1.82" fill="#08289a"/><circle cx="390.6" cy="123.7" r="1.82" fill="#08289a"/><circle cx="391.0" cy="155.9" r="1.82" fill="#08289a"/><circle cx="391.4" cy="108.1" r="1.82" fill="#08289a"/><circle cx="391.8" cy="148.4" r="1.82" fill="#08289a"/><circle cx="392.2" cy="122.7" r="1.82" fill="#08289a"/><circle cx="392.6" cy="135.2" r="1.82" fill="#08289a"/><circle cx="393.0" cy="157.1" r="1.82" fill="#08289a"/><circle cx="393.4" cy="120.6" r="1.82" fill="#08289a"/><circle cx="393.8" cy="140.8" r="1.82" fill="#08289a"/><circle cx="394.2" cy="99.9" r="1.82" fill="#08289a"/><circle cx="394.6" cy="171.6" r="1.82" fill="#08289a"/><circle cx="395.0" cy="140.5" r="1.82" fill="#08289a"/><circle cx="395.4" cy="125.0" r="1.82" fill="#08289a"/><circle cx="395.9" cy="162.7" r="1.82" fill="#08289a"/><circle cx="396.3" cy="101.9" r="1.82" fill="#08289a"/><circle cx="396.7" cy="122.9" r="1.82" fill="#08289a"/><circle cx="397.1" cy="124.4" r="1.82" fill="#08289a"/><circle cx="397.5" cy="132.5" r="1.82" fill="#08289a"/><circle cx="397.9" cy="139.5" r="1.82" fill="#08289a"/><circle cx="398.3" cy="174.9" r="1.82" fill="#08289a"/><circle cx="398.7" cy="141.3" r="1.82" fill="#08289a"/><circle cx="399.1" cy="123.4" r="1.82" fill="#08289a"/><circle cx="399.5" cy="158.9" r="1.82" fill="#08289a"/><circle cx="399.9" cy="103.0" r="1.82" fill="#08289a"/><circle cx="400.3" cy="145.1" r="1.82" fill="#08289a"/><circle cx="400.7" cy="134.8" r="1.82" fill="#08289a"/><circle cx="401.2" cy="147.7" r="1.82" fill="#08289a"/><circle cx="401.6" cy="103.4" r="1.82" fill="#08289a"/><circle cx="402.0" cy="139.8" r="1.82" fill="#08289a"/><circle cx="402.4" cy="98.3" r="1.82" fill="#08289a"/><circle cx="402.8" cy="110.5" r="1.82" fill="#08289a"/><circle cx="403.2" cy="157.8" r="1.82" fill="#08289a"/><circle cx="403.6" cy="107.7" r="1.82" fill="#08289a"/><circle cx="404.0" cy="133.8" r="1.82" fill="#08289a"/><circle cx="404.4" cy="135.5" r="1.82" fill="#08289a"/><circle cx="404.8" cy="95.7" r="1.82" fill="#08289a"/><circle cx="405.2" cy="124.4" r="1.82" fill="#08289a"/><circle cx="405.6" cy="115.7" r="1.82" fill="#08289a"/><circle cx="406.0" cy="108.2" r="1.82" fill="#08289a"/><circle cx="406.4" cy="103.1" r="1.82" fill="#08289a"/><circle cx="406.9" cy="120.1" r="1.82" fill="#08289a"/><circle cx="407.3" cy="109.4" r="1.82" fill="#08289a"/><circle cx="407.7" cy="147.2" r="1.82" fill="#08289a"/><circle cx="408.1" cy="122.9" r="1.82" fill="#08289a"/><circle cx="408.5" cy="131.5" r="1.82" fill="#08289a"/><circle cx="408.9" cy="138.4" r="1.82" fill="#08289a"/><circle cx="409.3" cy="113.9" r="1.82" fill="#08289a"/><circle cx="409.7" cy="125.8" r="1.82" fill="#08289a"/><circle cx="410.1" cy="144.6" r="1.82" fill="#08289a"/><circle cx="410.5" cy="104.1" r="1.82" fill="#08289a"/><circle cx="410.9" cy="95.6" r="1.82" fill="#08289a"/><circle cx="411.3" cy="106.0" r="1.82" fill="#08289a"/><circle cx="411.7" cy="156.1" r="1.82" fill="#08289a"/><circle cx="412.1" cy="106.7" r="1.82" fill="#08289a"/><circle cx="412.6" cy="125.7" r="1.82" fill="#08289a"/><circle cx="413.0" cy="105.4" r="1.82" fill="#08289a"/><circle cx="413.4" cy="128.4" r="1.82" fill="#08289a"/><circle cx="413.8" cy="92.4" r="1.82" fill="#08289a"/><circle cx="414.2" cy="96.6" r="1.82" fill="#08289a"/><circle cx="414.6" cy="102.2" r="1.82" fill="#08289a"/><circle cx="415.0" cy="122.8" r="1.82" fill="#08289a"/><circle cx="415.4" cy="94.1" r="1.82" fill="#08289a"/><circle cx="415.8" cy="117.0" r="1.82" fill="#08289a"/><circle cx="416.2" cy="131.3" r="1.82" fill="#08289a"/><circle cx="416.6" cy="115.7" r="1.82" fill="#08289a"/><circle cx="417.0" cy="125.9" r="1.82" fill="#08289a"/><circle cx="417.4" cy="126.0" r="1.82" fill="#08289a"/><circle cx="417.9" cy="132.0" r="1.82" fill="#08289a"/><circle cx="418.3" cy="111.2" r="1.82" fill="#08289a"/><circle cx="418.7" cy="139.6" r="1.82" fill="#08289a"/><circle cx="419.1" cy="105.9" r="1.82" fill="#08289a"/><circle cx="419.5" cy="88.4" r="1.82" fill="#08289a"/><circle cx="419.9" cy="146.6" r="1.82" fill="#08289a"/><circle cx="420.3" cy="151.9" r="1.82" fill="#08289a"/><circle cx="420.7" cy="126.7" r="1.82" fill="#08289a"/><circle cx="421.1" cy="130.3" r="1.82" fill="#08289a"/><circle cx="421.5" cy="92.6" r="1.82" fill="#08289a"/><circle cx="421.9" cy="88.4" r="1.82" fill="#08289a"/><circle cx="422.3" cy="109.2" r="1.82" fill="#08289a"/><circle cx="422.7" cy="129.3" r="1.82" fill="#08289a"/><circle cx="423.1" cy="105.7" r="1.82" fill="#08289a"/><circle cx="423.6" cy="118.7" r="1.82" fill="#08289a"/><circle cx="424.0" cy="102.8" r="1.82" fill="#08289a"/><circle cx="424.4" cy="93.3" r="1.82" fill="#08289a"/><circle cx="424.8" cy="116.0" r="1.82" fill="#08289a"/><circle cx="425.2" cy="120.8" r="1.82" fill="#08289a"/><circle cx="425.6" cy="85.5" r="1.82" fill="#08289a"/><circle cx="426.0" cy="121.3" r="1.82" fill="#08289a"/><circle cx="426.4" cy="85.2" r="1.82" fill="#08289a"/><circle cx="426.8" cy="147.8" r="1.82" fill="#08289a"/><circle cx="427.2" cy="112.6" r="1.82" fill="#08289a"/><circle cx="427.6" cy="130.7" r="1.82" fill="#08289a"/><circle cx="428.0" cy="149.1" r="1.82" fill="#08289a"/><circle cx="428.4" cy="85.1" r="1.82" fill="#08289a"/><circle cx="428.8" cy="93.2" r="1.82" fill="#08289a"/><circle cx="429.3" cy="129.7" r="1.82" fill="#08289a"/><circle cx="429.7" cy="143.0" r="1.82" fill="#08289a"/><circle cx="430.1" cy="125.1" r="1.82" fill="#08289a"/><circle cx="430.5" cy="101.9" r="1.82" fill="#08289a"/><circle cx="430.9" cy="108.5" r="1.82" fill="#08289a"/><circle cx="431.3" cy="80.3" r="1.82" fill="#08289a"/><circle cx="431.7" cy="88.3" r="1.82" fill="#08289a"/><circle cx="432.1" cy="100.0" r="1.82" fill="#08289a"/><circle cx="432.5" cy="67.7" r="1.82" fill="#08289a"/><circle cx="432.9" cy="121.4" r="1.82" fill="#08289a"/><circle cx="433.3" cy="72.2" r="1.82" fill="#08289a"/><circle cx="433.7" cy="116.1" r="1.82" fill="#08289a"/><circle cx="434.1" cy="104.2" r="1.82" fill="#08289a"/><circle cx="434.6" cy="82.9" r="1.82" fill="#08289a"/><circle cx="435.0" cy="118.3" r="1.82" fill="#08289a"/><circle cx="435.4" cy="70.0" r="1.82" fill="#08289a"/><circle cx="435.8" cy="127.3" r="1.82" fill="#08289a"/><circle cx="436.2" cy="119.8" r="1.82" fill="#08289a"/><circle cx="436.6" cy="80.9" r="1.82" fill="#08289a"/><circle cx="437.0" cy="147.7" r="1.82" fill="#08289a"/><circle cx="437.4" cy="112.6" r="1.82" fill="#08289a"/><circle cx="437.8" cy="140.9" r="1.82" fill="#08289a"/><circle cx="438.2" cy="102.3" r="1.82" fill="#08289a"/><circle cx="438.6" cy="79.6" r="1.82" fill="#08289a"/><circle cx="439.0" cy="146.8" r="1.82" fill="#08289a"/><circle cx="439.4" cy="65.0" r="1.82" fill="#08289a"/><circle cx="439.8" cy="116.4" r="1.82" fill="#08289a"/><circle cx="440.3" cy="81.3" r="1.82" fill="#08289a"/><circle cx="440.7" cy="98.0" r="1.82" fill="#08289a"/><circle cx="441.1" cy="150.4" r="1.82" fill="#08289a"/><circle cx="441.5" cy="88.9" r="1.82" fill="#08289a"/><circle cx="441.9" cy="110.2" r="1.82" fill="#08289a"/><circle cx="442.3" cy="100.5" r="1.82" fill="#08289a"/><circle cx="442.7" cy="82.5" r="1.82" fill="#08289a"/><circle cx="443.1" cy="115.1" r="1.82" fill="#08289a"/><circle cx="443.5" cy="122.4" r="1.82" fill="#08289a"/><circle cx="443.9" cy="117.2" r="1.82" fill="#08289a"/><circle cx="444.3" cy="133.3" r="1.82" fill="#08289a"/><circle cx="444.7" cy="105.0" r="1.82" fill="#08289a"/><circle cx="445.1" cy="75.5" r="1.82" fill="#08289a"/><circle cx="445.5" cy="59.4" r="1.82" fill="#08289a"/><circle cx="446.0" cy="144.1" r="1.82" fill="#08289a"/><circle cx="446.4" cy="129.5" r="1.82" fill="#08289a"/><circle cx="446.8" cy="103.5" r="1.82" fill="#08289a"/><circle cx="447.2" cy="150.4" r="1.82" fill="#08289a"/><circle cx="447.6" cy="118.5" r="1.82" fill="#08289a"/><circle cx="448.0" cy="128.1" r="1.82" fill="#08289a"/><circle cx="448.4" cy="80.8" r="1.82" fill="#08289a"/><circle cx="448.8" cy="122.5" r="1.82" fill="#08289a"/><circle cx="449.2" cy="136.0" r="1.82" fill="#08289a"/><circle cx="449.6" cy="95.2" r="1.82" fill="#08289a"/><circle cx="450.0" cy="88.5" r="1.82" fill="#08289a"/><circle cx="450.4" cy="141.2" r="1.82" fill="#08289a"/><circle cx="450.8" cy="150.8" r="1.82" fill="#08289a"/><circle cx="451.2" cy="74.6" r="1.82" fill="#08289a"/><circle cx="451.7" cy="67.0" r="1.82" fill="#08289a"/><circle cx="452.1" cy="70.4" r="1.82" fill="#08289a"/><circle cx="452.5" cy="124.3" r="1.82" fill="#08289a"/><circle cx="452.9" cy="113.6" r="1.82" fill="#08289a"/><circle cx="453.3" cy="130.0" r="1.82" fill="#08289a"/><circle cx="453.7" cy="107.1" r="1.82" fill="#08289a"/><circle cx="454.1" cy="94.6" r="1.82" fill="#08289a"/><circle cx="454.5" cy="91.7" r="1.82" fill="#08289a"/><circle cx="454.9" cy="103.5" r="1.82" fill="#08289a"/><circle cx="455.3" cy="100.4" r="1.82" fill="#08289a"/><circle cx="455.7" cy="103.0" r="1.82" fill="#08289a"/><circle cx="456.1" cy="112.7" r="1.82" fill="#08289a"/><circle cx="456.5" cy="126.5" r="1.82" fill="#08289a"/><circle cx="457.0" cy="108.3" r="1.82" fill="#08289a"/><circle cx="457.4" cy="133.3" r="1.82" fill="#08289a"/><circle cx="457.8" cy="84.7" r="1.82" fill="#08289a"/><circle cx="458.2" cy="128.6" r="1.82" fill="#08289a"/><circle cx="458.6" cy="124.0" r="1.82" fill="#08289a"/><circle cx="459.0" cy="100.6" r="1.82" fill="#08289a"/><circle cx="459.4" cy="136.1" r="1.82" fill="#08289a"/><circle cx="459.8" cy="106.8" r="1.82" fill="#08289a"/><circle cx="460.2" cy="124.1" r="1.82" fill="#08289a"/><circle cx="460.6" cy="113.1" r="1.82" fill="#08289a"/><circle cx="461.0" cy="85.4" r="1.82" fill="#08289a"/><circle cx="461.4" cy="107.5" r="1.82" fill="#08289a"/><circle cx="461.8" cy="117.5" r="1.82" fill="#08289a"/><circle cx="462.2" cy="72.2" r="1.82" fill="#08289a"/><circle cx="462.7" cy="82.8" r="1.82" fill="#08289a"/><circle cx="463.1" cy="107.1" r="1.82" fill="#08289a"/><circle cx="463.5" cy="111.0" r="1.82" fill="#08289a"/><circle cx="463.9" cy="94.9" r="1.82" fill="#08289a"/><circle cx="464.3" cy="90.8" r="1.82" fill="#08289a"/><circle cx="464.7" cy="121.0" r="1.82" fill="#08289a"/><circle cx="465.1" cy="93.2" r="1.82" fill="#08289a"/><circle cx="465.5" cy="118.9" r="1.82" fill="#08289a"/><circle cx="465.9" cy="78.5" r="1.82" fill="#08289a"/><circle cx="466.3" cy="110.4" r="1.82" fill="#08289a"/><circle cx="466.7" cy="102.4" r="1.82" fill="#08289a"/><circle cx="467.1" cy="122.1" r="1.82" fill="#08289a"/><circle cx="467.5" cy="120.9" r="1.82" fill="#08289a"/><circle cx="467.9" cy="96.5" r="1.82" fill="#08289a"/><circle cx="468.4" cy="97.4" r="1.82" fill="#08289a"/><circle cx="468.8" cy="137.5" r="1.82" fill="#08289a"/><circle cx="469.2" cy="118.5" r="1.82" fill="#08289a"/><circle cx="469.6" cy="86.3" r="1.82" fill="#08289a"/><circle cx="470.0" cy="76.0" r="1.82" fill="#08289a"/><circle cx="470.4" cy="93.7" r="1.82" fill="#08289a"/><circle cx="470.8" cy="84.3" r="1.82" fill="#08289a"/><circle cx="471.2" cy="89.9" r="1.82" fill="#08289a"/><circle cx="471.6" cy="124.2" r="1.82" fill="#08289a"/><circle cx="472.0" cy="89.0" r="1.82" fill="#08289a"/><circle cx="472.4" cy="81.0" r="1.82" fill="#08289a"/><circle cx="472.8" cy="112.9" r="1.82" fill="#08289a"/><circle cx="473.2" cy="130.1" r="1.82" fill="#08289a"/><circle cx="473.7" cy="88.6" r="1.82" fill="#08289a"/><circle cx="474.1" cy="97.5" r="1.82" fill="#08289a"/><circle cx="474.5" cy="93.5" r="1.82" fill="#08289a"/><circle cx="474.9" cy="80.0" r="1.82" fill="#08289a"/><circle cx="475.3" cy="120.8" r="1.82" fill="#08289a"/><circle cx="475.7" cy="108.0" r="1.82" fill="#08289a"/><circle cx="476.1" cy="131.3" r="1.82" fill="#08289a"/><circle cx="476.5" cy="118.9" r="1.82" fill="#08289a"/><circle cx="476.9" cy="101.1" r="1.82" fill="#08289a"/><circle cx="477.3" cy="131.1" r="1.82" fill="#08289a"/><circle cx="477.7" cy="86.5" r="1.82" fill="#08289a"/><circle cx="478.1" cy="114.7" r="1.82" fill="#08289a"/><circle cx="478.5" cy="114.2" r="1.82" fill="#08289a"/><circle cx="478.9" cy="115.6" r="1.82" fill="#08289a"/><circle cx="479.4" cy="88.5" r="1.82" fill="#08289a"/><circle cx="479.8" cy="133.4" r="1.82" fill="#08289a"/><circle cx="480.2" cy="91.1" r="1.82" fill="#08289a"/><circle cx="480.6" cy="132.2" r="1.82" fill="#08289a"/><circle cx="481.0" cy="118.5" r="1.82" fill="#08289a"/><circle cx="481.4" cy="125.1" r="1.82" fill="#08289a"/><circle cx="481.8" cy="138.8" r="1.82" fill="#08289a"/><circle cx="482.2" cy="121.8" r="1.82" fill="#08289a"/><circle cx="482.6" cy="132.1" r="1.82" fill="#08289a"/><circle cx="483.0" cy="125.2" r="1.82" fill="#08289a"/><circle cx="483.4" cy="138.9" r="1.82" fill="#08289a"/><circle cx="483.8" cy="121.2" r="1.82" fill="#08289a"/><circle cx="484.2" cy="137.1" r="1.82" fill="#08289a"/><circle cx="484.6" cy="112.5" r="1.82" fill="#08289a"/><circle cx="485.1" cy="109.5" r="1.82" fill="#08289a"/><circle cx="485.5" cy="102.9" r="1.82" fill="#08289a"/><circle cx="485.9" cy="114.0" r="1.82" fill="#08289a"/><circle cx="486.3" cy="108.1" r="1.82" fill="#08289a"/><circle cx="486.7" cy="140.1" r="1.82" fill="#08289a"/><circle cx="487.1" cy="140.7" r="1.82" fill="#08289a"/><circle cx="487.5" cy="134.1" r="1.82" fill="#08289a"/><circle cx="487.9" cy="110.5" r="1.82" fill="#08289a"/><circle cx="488.3" cy="162.7" r="1.82" fill="#08289a"/><circle cx="488.7" cy="122.9" r="1.82" fill="#08289a"/><circle cx="489.1" cy="153.4" r="1.82" fill="#08289a"/><circle cx="489.5" cy="145.3" r="1.82" fill="#08289a"/><circle cx="489.9" cy="132.7" r="1.82" fill="#08289a"/><circle cx="490.4" cy="129.0" r="1.82" fill="#08289a"/><circle cx="490.8" cy="134.0" r="1.82" fill="#08289a"/><circle cx="491.2" cy="147.6" r="1.82" fill="#08289a"/><circle cx="491.6" cy="147.8" r="1.82" fill="#08289a"/><circle cx="492.0" cy="147.3" r="1.82" fill="#08289a"/><circle cx="492.4" cy="140.2" r="1.82" fill="#08289a"/><circle cx="492.8" cy="135.0" r="1.82" fill="#08289a"/><circle cx="493.2" cy="153.4" r="1.82" fill="#08289a"/><circle cx="493.6" cy="141.8" r="1.82" fill="#08289a"/><circle cx="494.0" cy="150.4" r="1.82" fill="#08289a"/><circle cx="494.4" cy="161.7" r="1.82" fill="#08289a"/><circle cx="494.8" cy="174.3" r="1.82" fill="#08289a"/><circle cx="495.2" cy="156.2" r="1.82" fill="#08289a"/><circle cx="495.6" cy="141.9" r="1.82" fill="#08289a"/><circle cx="496.1" cy="167.1" r="1.82" fill="#08289a"/><circle cx="496.5" cy="153.9" r="1.82" fill="#08289a"/><circle cx="496.9" cy="161.9" r="1.82" fill="#08289a"/><circle cx="497.3" cy="157.2" r="1.82" fill="#08289a"/><circle cx="497.7" cy="145.5" r="1.82" fill="#08289a"/><circle cx="498.1" cy="174.3" r="1.82" fill="#08289a"/><circle cx="498.5" cy="144.9" r="1.82" fill="#08289a"/><circle cx="498.9" cy="151.0" r="1.82" fill="#08289a"/><circle cx="499.3" cy="143.8" r="1.82" fill="#08289a"/><circle cx="499.7" cy="170.4" r="1.82" fill="#08289a"/><circle cx="500.1" cy="164.1" r="1.82" fill="#08289a"/><circle cx="500.5" cy="165.4" r="1.82" fill="#08289a"/><circle cx="500.9" cy="179.2" r="1.82" fill="#08289a"/><circle cx="501.3" cy="178.4" r="1.82" fill="#08289a"/><circle cx="501.8" cy="165.9" r="1.82" fill="#08289a"/><circle cx="502.2" cy="194.3" r="1.82" fill="#08289a"/><circle cx="502.6" cy="175.0" r="1.82" fill="#08289a"/><circle cx="503.0" cy="169.6" r="1.82" fill="#08289a"/><circle cx="503.4" cy="151.7" r="1.82" fill="#08289a"/><circle cx="503.8" cy="161.2" r="1.82" fill="#08289a"/><circle cx="504.2" cy="169.7" r="1.82" fill="#08289a"/><circle cx="504.6" cy="187.9" r="1.82" fill="#08289a"/><circle cx="505.0" cy="156.5" r="1.82" fill="#08289a"/><circle cx="505.4" cy="163.6" r="1.82" fill="#08289a"/><circle cx="505.8" cy="195.1" r="1.82" fill="#08289a"/><circle cx="506.2" cy="173.5" r="1.82" fill="#08289a"/><circle cx="506.6" cy="202.0" r="1.82" fill="#08289a"/><circle cx="507.0" cy="168.0" r="1.82" fill="#08289a"/><circle cx="507.5" cy="199.9" r="1.82" fill="#08289a"/><circle cx="507.9" cy="174.6" r="1.82" fill="#08289a"/><circle cx="92.0" cy="124.0" r="1.82" fill="#08289a"/><circle cx="100.0" cy="127.0" r="1.82" fill="#08289a"/><circle cx="101.0" cy="122.0" r="1.82" fill="#08289a"/><circle cx="132.0" cy="121.0" r="1.82" fill="#08289a"/><circle cx="89.0" cy="103.0" r="1.82" fill="#08289a"/><circle cx="96.0" cy="108.0" r="1.82" fill="#08289a"/><circle cx="104.0" cy="110.0" r="1.82" fill="#08289a"/><circle cx="118.0" cy="113.0" r="1.82" fill="#08289a"/><circle cx="138.0" cy="110.0" r="1.82" fill="#08289a"/><circle cx="141.0" cy="114.0" r="1.82" fill="#08289a"/><circle cx="149.0" cy="100.0" r="1.82" fill="#08289a"/><circle cx="390.0" cy="75.5" r="1.82" fill="#08289a"/><circle cx="506.0" cy="190.0" r="1.82" fill="#08289a"/><circle cx="508.0" cy="197.0" r="1.82" fill="#08289a"/><circle cx="503.0" cy="208.5" r="1.82" fill="#08289a"/><circle cx="506.5" cy="214.0" r="1.82" fill="#08289a"/><circle cx="218.0" cy="265.0" r="1.82" fill="#08289a"/><circle cx="195.0" cy="234.5" r="1.82" fill="#08289a"/><circle cx="178.0" cy="215.0" r="1.82" fill="#08289a"/><circle cx="190.0" cy="218.0" r="1.82" fill="#08289a"/><circle cx="357.5" cy="211.0" r="1.82" fill="#08289a"/><circle cx="430.0" cy="58.0" r="1.82" fill="#08289a"/><circle cx="439.0" cy="58.0" r="1.82" fill="#08289a"/><circle cx="445.0" cy="57.0" r="1.82" fill="#08289a"/><circle cx="453.0" cy="61.0" r="1.82" fill="#08289a"/><circle cx="427.5" cy="67.0" r="1.82" fill="#08289a"/><circle cx="126.0" cy="12.5" r="1.82" fill="#08289a"/><circle cx="136.5" cy="18.5" r="1.82" fill="#08289a"/><circle cx="136.0" cy="28.0" r="1.82" fill="#08289a"/><circle cx="150.5" cy="26.0" r="1.82" fill="#08289a"/><circle cx="149.0" cy="30.0" r="1.82" fill="#08289a"/><circle cx="113.0" cy="30.0" r="1.82" fill="#08289a"/><circle cx="109.0" cy="32.0" r="1.82" fill="#08289a"/><circle cx="94.0" cy="34.0" r="1.82" fill="#08289a"/><circle cx="85.9" cy="295.0" r="1.82" fill="#850a30"/><circle cx="86.3" cy="295.0" r="1.82" fill="#850a30"/><circle cx="86.7" cy="295.0" r="1.82" fill="#850a30"/><circle cx="87.1" cy="295.0" r="1.82" fill="#850a30"/><circle cx="87.5" cy="295.0" r="1.82" fill="#850a30"/><circle cx="87.9" cy="295.0" r="1.82" fill="#850a30"/><circle cx="88.3" cy="295.0" r="1.82" fill="#850a30"/><circle cx="88.8" cy="295.0" r="1.82" fill="#850a30"/><circle cx="89.2" cy="295.0" r="1.82" fill="#850a30"/><circle cx="89.6" cy="295.0" r="1.82" fill="#850a30"/><circle cx="90.0" cy="295.0" r="1.82" fill="#850a30"/><circle cx="90.4" cy="295.0" r="1.82" fill="#850a30"/><circle cx="90.8" cy="295.0" r="1.82" fill="#850a30"/><circle cx="91.2" cy="295.0" r="1.82" fill="#850a30"/><circle cx="91.6" cy="295.0" r="1.82" fill="#850a30"/><circle cx="92.0" cy="295.0" r="1.82" fill="#850a30"/><circle cx="92.4" cy="295.0" r="1.82" fill="#850a30"/><circle cx="92.8" cy="295.0" r="1.82" fill="#850a30"/><circle cx="93.2" cy="295.0" r="1.82" fill="#850a30"/><circle cx="93.6" cy="295.0" r="1.82" fill="#850a30"/><circle cx="94.0" cy="295.0" r="1.82" fill="#850a30"/><circle cx="94.5" cy="295.0" r="1.82" fill="#850a30"/><circle cx="94.9" cy="295.0" r="1.82" fill="#850a30"/><circle cx="95.3" cy="295.0" r="1.82" fill="#850a30"/><circle cx="95.7" cy="295.0" r="1.82" fill="#850a30"/><circle cx="96.1" cy="295.0" r="1.82" fill="#850a30"/><circle cx="96.5" cy="295.0" r="1.82" fill="#850a30"/><circle cx="96.9" cy="294.9" r="1.82" fill="#850a30"/><circle cx="97.3" cy="295.0" r="1.82" fill="#850a30"/><circle cx="97.7" cy="295.0" r="1.82" fill="#850a30"/><circle cx="98.1" cy="295.0" r="1.82" fill="#850a30"/><circle cx="98.5" cy="294.9" r="1.82" fill="#850a30"/><circle cx="98.9" cy="295.0" r="1.82" fill="#850a30"/><circle cx="99.3" cy="295.0" r="1.82" fill="#850a30"/><circle cx="99.7" cy="295.0" r="1.82" fill="#850a30"/><circle cx="100.2" cy="294.9" r="1.82" fill="#850a30"/><circle cx="100.6" cy="294.9" r="1.82" fill="#850a30"/><circle cx="101.0" cy="295.0" r="1.82" fill="#850a30"/><circle cx="101.4" cy="295.0" r="1.82" fill="#850a30"/><circle cx="101.8" cy="295.0" r="1.82" fill="#850a30"/><circle cx="102.2" cy="295.0" r="1.82" fill="#850a30"/><circle cx="102.6" cy="294.9" r="1.82" fill="#850a30"/><circle cx="103.0" cy="295.0" r="1.82" fill="#850a30"/><circle cx="103.4" cy="294.9" r="1.82" fill="#850a30"/><circle cx="103.8" cy="295.0" r="1.82" fill="#850a30"/><circle cx="104.2" cy="294.9" r="1.82" fill="#850a30"/><circle cx="104.6" cy="295.0" r="1.82" fill="#850a30"/><circle cx="105.0" cy="295.0" r="1.82" fill="#850a30"/><circle cx="105.5" cy="294.9" r="1.82" fill="#850a30"/><circle cx="105.9" cy="294.9" r="1.82" fill="#850a30"/><circle cx="106.3" cy="294.9" r="1.82" fill="#850a30"/><circle cx="106.7" cy="294.9" r="1.82" fill="#850a30"/><circle cx="107.1" cy="294.9" r="1.82" fill="#850a30"/><circle cx="107.5" cy="295.0" r="1.82" fill="#850a30"/><circle cx="107.9" cy="295.0" r="1.82" fill="#850a30"/><circle cx="108.3" cy="295.0" r="1.82" fill="#850a30"/><circle cx="108.7" cy="294.9" r="1.82" fill="#850a30"/><circle cx="109.1" cy="295.0" r="1.82" fill="#850a30"/><circle cx="109.5" cy="294.9" r="1.82" fill="#850a30"/><circle cx="109.9" cy="294.9" r="1.82" fill="#850a30"/><circle cx="110.3" cy="294.9" r="1.82" fill="#850a30"/><circle cx="110.7" cy="294.9" r="1.82" fill="#850a30"/><circle cx="111.2" cy="294.9" r="1.82" fill="#850a30"/><circle cx="111.6" cy="295.0" r="1.82" fill="#850a30"/><circle cx="112.0" cy="295.0" r="1.82" fill="#850a30"/><circle cx="112.4" cy="294.9" r="1.82" fill="#850a30"/><circle cx="112.8" cy="294.9" r="1.82" fill="#850a30"/><circle cx="113.2" cy="294.9" r="1.82" fill="#850a30"/><circle cx="113.6" cy="294.9" r="1.82" fill="#850a30"/><circle cx="114.0" cy="295.0" r="1.82" fill="#850a30"/><circle cx="114.4" cy="294.9" r="1.82" fill="#850a30"/><circle cx="114.8" cy="294.8" r="1.82" fill="#850a30"/><circle cx="115.2" cy="294.9" r="1.82" fill="#850a30"/><circle cx="115.6" cy="294.9" r="1.82" fill="#850a30"/><circle cx="116.0" cy="294.9" r="1.82" fill="#850a30"/><circle cx="116.4" cy="294.8" r="1.82" fill="#850a30"/><circle cx="116.9" cy="295.0" r="1.82" fill="#850a30"/><circle cx="117.3" cy="294.9" r="1.82" fill="#850a30"/><circle cx="117.7" cy="294.9" r="1.82" fill="#850a30"/><circle cx="118.1" cy="294.9" r="1.82" fill="#850a30"/><circle cx="118.5" cy="294.9" r="1.82" fill="#850a30"/><circle cx="118.9" cy="294.9" r="1.82" fill="#850a30"/><circle cx="119.3" cy="294.8" r="1.82" fill="#850a30"/><circle cx="119.7" cy="294.9" r="1.82" fill="#850a30"/><circle cx="120.1" cy="294.4" r="1.82" fill="#850a30"/><circle cx="120.5" cy="294.2" r="1.82" fill="#850a30"/><circle cx="120.9" cy="294.2" r="1.82" fill="#850a30"/><circle cx="121.3" cy="293.5" r="1.82" fill="#850a30"/><circle cx="121.7" cy="294.0" r="1.82" fill="#850a30"/><circle cx="122.2" cy="294.4" r="1.82" fill="#850a30"/><circle cx="122.6" cy="294.3" r="1.82" fill="#850a30"/><circle cx="123.0" cy="293.3" r="1.82" fill="#850a30"/><circle cx="123.4" cy="293.6" r="1.82" fill="#850a30"/><circle cx="123.8" cy="294.1" r="1.82" fill="#850a30"/><circle cx="124.2" cy="294.1" r="1.82" fill="#850a30"/><circle cx="124.6" cy="293.2" r="1.82" fill="#850a30"/><circle cx="125.0" cy="293.6" r="1.82" fill="#850a30"/><circle cx="125.4" cy="293.5" r="1.82" fill="#850a30"/><circle cx="125.8" cy="294.0" r="1.82" fill="#850a30"/><circle cx="126.2" cy="293.9" r="1.82" fill="#850a30"/><circle cx="126.6" cy="294.9" r="1.82" fill="#850a30"/><circle cx="127.0" cy="294.8" r="1.82" fill="#850a30"/><circle cx="127.4" cy="294.8" r="1.82" fill="#850a30"/><circle cx="127.9" cy="294.8" r="1.82" fill="#850a30"/><circle cx="128.3" cy="293.9" r="1.82" fill="#850a30"/><circle cx="128.7" cy="293.0" r="1.82" fill="#850a30"/><circle cx="129.1" cy="295.0" r="1.82" fill="#850a30"/><circle cx="129.5" cy="293.3" r="1.82" fill="#850a30"/><circle cx="129.9" cy="292.7" r="1.82" fill="#850a30"/><circle cx="130.3" cy="293.0" r="1.82" fill="#850a30"/><circle cx="130.7" cy="294.9" r="1.82" fill="#850a30"/><circle cx="131.1" cy="293.5" r="1.82" fill="#850a30"/><circle cx="131.5" cy="293.2" r="1.82" fill="#850a30"/><circle cx="131.9" cy="292.7" r="1.82" fill="#850a30"/><circle cx="132.3" cy="293.2" r="1.82" fill="#850a30"/><circle cx="132.7" cy="292.9" r="1.82" fill="#850a30"/><circle cx="133.1" cy="294.2" r="1.82" fill="#850a30"/><circle cx="133.6" cy="293.5" r="1.82" fill="#850a30"/><circle cx="134.0" cy="292.2" r="1.82" fill="#850a30"/><circle cx="134.4" cy="290.4" r="1.82" fill="#850a30"/><circle cx="134.8" cy="291.6" r="1.82" fill="#850a30"/><circle cx="135.2" cy="293.1" r="1.82" fill="#850a30"/><circle cx="135.6" cy="291.3" r="1.82" fill="#850a30"/><circle cx="136.0" cy="292.9" r="1.82" fill="#850a30"/><circle cx="136.4" cy="291.2" r="1.82" fill="#850a30"/><circle cx="136.8" cy="293.9" r="1.82" fill="#850a30"/><circle cx="137.2" cy="293.3" r="1.82" fill="#850a30"/><circle cx="137.6" cy="292.5" r="1.82" fill="#850a30"/><circle cx="138.0" cy="289.5" r="1.82" fill="#850a30"/><circle cx="138.4" cy="288.6" r="1.82" fill="#850a30"/><circle cx="138.9" cy="291.9" r="1.82" fill="#850a30"/><circle cx="139.3" cy="288.9" r="1.82" fill="#850a30"/><circle cx="139.7" cy="291.9" r="1.82" fill="#850a30"/><circle cx="140.1" cy="288.2" r="1.82" fill="#850a30"/><circle cx="140.5" cy="291.3" r="1.82" fill="#850a30"/><circle cx="140.9" cy="292.2" r="1.82" fill="#850a30"/><circle cx="141.3" cy="288.2" r="1.82" fill="#850a30"/><circle cx="141.7" cy="293.7" r="1.82" fill="#850a30"/><circle cx="142.1" cy="287.6" r="1.82" fill="#850a30"/><circle cx="142.5" cy="293.0" r="1.82" fill="#850a30"/><circle cx="142.9" cy="290.2" r="1.82" fill="#850a30"/><circle cx="143.3" cy="289.8" r="1.82" fill="#850a30"/><circle cx="143.7" cy="293.7" r="1.82" fill="#850a30"/><circle cx="144.1" cy="290.4" r="1.82" fill="#850a30"/><circle cx="144.6" cy="286.7" r="1.82" fill="#850a30"/><circle cx="145.0" cy="290.7" r="1.82" fill="#850a30"/><circle cx="145.4" cy="286.2" r="1.82" fill="#850a30"/><circle cx="145.8" cy="287.8" r="1.82" fill="#850a30"/><circle cx="146.2" cy="285.2" r="1.82" fill="#850a30"/><circle cx="146.6" cy="288.2" r="1.82" fill="#850a30"/><circle cx="147.0" cy="291.0" r="1.82" fill="#850a30"/><circle cx="147.4" cy="281.1" r="1.82" fill="#850a30"/><circle cx="147.8" cy="286.6" r="1.82" fill="#850a30"/><circle cx="148.2" cy="282.6" r="1.82" fill="#850a30"/><circle cx="148.6" cy="280.7" r="1.82" fill="#850a30"/><circle cx="149.0" cy="284.6" r="1.82" fill="#850a30"/><circle cx="149.4" cy="280.9" r="1.82" fill="#850a30"/><circle cx="149.8" cy="288.1" r="1.82" fill="#850a30"/><circle cx="150.3" cy="284.7" r="1.82" fill="#850a30"/><circle cx="150.7" cy="279.5" r="1.82" fill="#850a30"/><circle cx="151.1" cy="282.2" r="1.82" fill="#850a30"/><circle cx="151.5" cy="280.4" r="1.82" fill="#850a30"/><circle cx="151.9" cy="280.0" r="1.82" fill="#850a30"/><circle cx="152.3" cy="287.9" r="1.82" fill="#850a30"/><circle cx="152.7" cy="288.7" r="1.82" fill="#850a30"/><circle cx="153.1" cy="289.2" r="1.82" fill="#850a30"/><circle cx="153.5" cy="290.1" r="1.82" fill="#850a30"/><circle cx="153.9" cy="291.1" r="1.82" fill="#850a30"/><circle cx="154.3" cy="276.1" r="1.82" fill="#850a30"/><circle cx="154.7" cy="286.1" r="1.82" fill="#850a30"/><circle cx="155.1" cy="280.5" r="1.82" fill="#850a30"/><circle cx="155.5" cy="277.1" r="1.82" fill="#850a30"/><circle cx="156.0" cy="271.6" r="1.82" fill="#850a30"/><circle cx="156.4" cy="284.0" r="1.82" fill="#850a30"/><circle cx="156.8" cy="285.5" r="1.82" fill="#850a30"/><circle cx="157.2" cy="282.5" r="1.82" fill="#850a30"/><circle cx="157.6" cy="283.9" r="1.82" fill="#850a30"/><circle cx="158.0" cy="268.3" r="1.82" fill="#850a30"/><circle cx="158.4" cy="277.6" r="1.82" fill="#850a30"/><circle cx="158.8" cy="270.9" r="1.82" fill="#850a30"/><circle cx="159.2" cy="279.0" r="1.82" fill="#850a30"/><circle cx="159.6" cy="281.9" r="1.82" fill="#850a30"/><circle cx="160.0" cy="279.0" r="1.82" fill="#850a30"/><circle cx="160.4" cy="268.6" r="1.82" fill="#850a30"/><circle cx="160.8" cy="274.7" r="1.82" fill="#850a30"/><circle cx="161.3" cy="267.7" r="1.82" fill="#850a30"/><circle cx="161.7" cy="271.1" r="1.82" fill="#850a30"/><circle cx="162.1" cy="272.9" r="1.82" fill="#850a30"/><circle cx="162.5" cy="262.1" r="1.82" fill="#850a30"/><circle cx="162.9" cy="264.2" r="1.82" fill="#850a30"/><circle cx="163.3" cy="251.4" r="1.82" fill="#850a30"/><circle cx="163.7" cy="253.8" r="1.82" fill="#850a30"/><circle cx="164.1" cy="246.4" r="1.82" fill="#850a30"/><circle cx="164.5" cy="254.2" r="1.82" fill="#850a30"/><circle cx="164.9" cy="253.0" r="1.82" fill="#850a30"/><circle cx="165.3" cy="237.2" r="1.82" fill="#850a30"/><circle cx="165.7" cy="232.6" r="1.82" fill="#850a30"/><circle cx="166.1" cy="241.6" r="1.82" fill="#850a30"/><circle cx="166.5" cy="235.7" r="1.82" fill="#850a30"/><circle cx="167.0" cy="232.3" r="1.82" fill="#850a30"/><circle cx="167.4" cy="240.8" r="1.82" fill="#850a30"/><circle cx="167.8" cy="230.6" r="1.82" fill="#850a30"/><circle cx="168.2" cy="235.8" r="1.82" fill="#850a30"/><circle cx="168.6" cy="228.6" r="1.82" fill="#850a30"/><circle cx="169.0" cy="230.3" r="1.82" fill="#850a30"/><circle cx="169.4" cy="235.7" r="1.82" fill="#850a30"/><circle cx="169.8" cy="220.5" r="1.82" fill="#850a30"/><circle cx="170.2" cy="219.2" r="1.82" fill="#850a30"/><circle cx="170.6" cy="222.0" r="1.82" fill="#850a30"/><circle cx="171.0" cy="233.3" r="1.82" fill="#850a30"/><circle cx="171.4" cy="221.7" r="1.82" fill="#850a30"/><circle cx="171.8" cy="226.7" r="1.82" fill="#850a30"/><circle cx="172.2" cy="227.0" r="1.82" fill="#850a30"/><circle cx="172.7" cy="220.7" r="1.82" fill="#850a30"/><circle cx="173.1" cy="210.4" r="1.82" fill="#850a30"/><circle cx="173.5" cy="223.1" r="1.82" fill="#850a30"/><circle cx="173.9" cy="216.7" r="1.82" fill="#850a30"/><circle cx="174.3" cy="218.2" r="1.82" fill="#850a30"/><circle cx="174.7" cy="214.7" r="1.82" fill="#850a30"/><circle cx="175.1" cy="206.5" r="1.82" fill="#850a30"/><circle cx="175.5" cy="205.0" r="1.82" fill="#850a30"/><circle cx="175.9" cy="219.8" r="1.82" fill="#850a30"/><circle cx="176.3" cy="209.8" r="1.82" fill="#850a30"/><circle cx="176.7" cy="216.7" r="1.82" fill="#850a30"/><circle cx="177.1" cy="198.3" r="1.82" fill="#850a30"/><circle cx="177.5" cy="223.9" r="1.82" fill="#850a30"/><circle cx="178.0" cy="218.5" r="1.82" fill="#850a30"/><circle cx="178.4" cy="191.7" r="1.82" fill="#850a30"/><circle cx="178.8" cy="192.6" r="1.82" fill="#850a30"/><circle cx="179.2" cy="205.5" r="1.82" fill="#850a30"/><circle cx="179.6" cy="214.2" r="1.82" fill="#850a30"/><circle cx="180.0" cy="198.1" r="1.82" fill="#850a30"/><circle cx="180.4" cy="193.5" r="1.82" fill="#850a30"/><circle cx="180.8" cy="193.0" r="1.82" fill="#850a30"/><circle cx="181.2" cy="194.3" r="1.82" fill="#850a30"/><circle cx="181.6" cy="209.0" r="1.82" fill="#850a30"/><circle cx="182.0" cy="221.6" r="1.82" fill="#850a30"/><circle cx="182.4" cy="201.6" r="1.82" fill="#850a30"/><circle cx="182.8" cy="183.8" r="1.82" fill="#850a30"/><circle cx="183.2" cy="178.7" r="1.82" fill="#850a30"/><circle cx="183.7" cy="220.6" r="1.82" fill="#850a30"/><circle cx="184.1" cy="196.3" r="1.82" fill="#850a30"/><circle cx="184.5" cy="213.4" r="1.82" fill="#850a30"/><circle cx="184.9" cy="201.1" r="1.82" fill="#850a30"/><circle cx="185.3" cy="209.4" r="1.82" fill="#850a30"/><circle cx="185.7" cy="192.5" r="1.82" fill="#850a30"/><circle cx="186.1" cy="198.7" r="1.82" fill="#850a30"/><circle cx="186.5" cy="201.2" r="1.82" fill="#850a30"/><circle cx="186.9" cy="206.9" r="1.82" fill="#850a30"/><circle cx="187.3" cy="202.0" r="1.82" fill="#850a30"/><circle cx="187.7" cy="212.2" r="1.82" fill="#850a30"/><circle cx="188.1" cy="201.5" r="1.82" fill="#850a30"/><circle cx="188.5" cy="193.5" r="1.82" fill="#850a30"/><circle cx="188.9" cy="211.5" r="1.82" fill="#850a30"/><circle cx="189.4" cy="196.4" r="1.82" fill="#850a30"/><circle cx="189.8" cy="184.6" r="1.82" fill="#850a30"/><circle cx="190.2" cy="180.6" r="1.82" fill="#850a30"/><circle cx="190.6" cy="184.3" r="1.82" fill="#850a30"/><circle cx="191.0" cy="203.7" r="1.82" fill="#850a30"/><circle cx="191.4" cy="206.4" r="1.82" fill="#850a30"/><circle cx="191.8" cy="203.6" r="1.82" fill="#850a30"/><circle cx="192.2" cy="208.8" r="1.82" fill="#850a30"/><circle cx="192.6" cy="214.7" r="1.82" fill="#850a30"/><circle cx="193.0" cy="218.4" r="1.82" fill="#850a30"/><circle cx="193.4" cy="222.7" r="1.82" fill="#850a30"/><circle cx="193.8" cy="196.1" r="1.82" fill="#850a30"/><circle cx="194.2" cy="194.3" r="1.82" fill="#850a30"/><circle cx="194.7" cy="198.2" r="1.82" fill="#850a30"/><circle cx="195.1" cy="203.3" r="1.82" fill="#850a30"/><circle cx="195.5" cy="208.6" r="1.82" fill="#850a30"/><circle cx="195.9" cy="200.8" r="1.82" fill="#850a30"/><circle cx="196.3" cy="186.7" r="1.82" fill="#850a30"/><circle cx="196.7" cy="199.6" r="1.82" fill="#850a30"/><circle cx="197.1" cy="215.7" r="1.82" fill="#850a30"/><circle cx="197.5" cy="223.5" r="1.82" fill="#850a30"/><circle cx="197.9" cy="191.0" r="1.82" fill="#850a30"/><circle cx="198.3" cy="220.3" r="1.82" fill="#850a30"/><circle cx="198.7" cy="196.4" r="1.82" fill="#850a30"/><circle cx="199.1" cy="219.5" r="1.82" fill="#850a30"/><circle cx="199.5" cy="213.5" r="1.82" fill="#850a30"/><circle cx="199.9" cy="179.6" r="1.82" fill="#850a30"/><circle cx="200.4" cy="190.0" r="1.82" fill="#850a30"/><circle cx="200.8" cy="204.6" r="1.82" fill="#850a30"/><circle cx="201.2" cy="206.1" r="1.82" fill="#850a30"/><circle cx="201.6" cy="216.9" r="1.82" fill="#850a30"/><circle cx="202.0" cy="209.7" r="1.82" fill="#850a30"/><circle cx="202.4" cy="217.4" r="1.82" fill="#850a30"/><circle cx="202.8" cy="197.8" r="1.82" fill="#850a30"/><circle cx="203.2" cy="179.2" r="1.82" fill="#850a30"/><circle cx="203.6" cy="200.5" r="1.82" fill="#850a30"/><circle cx="204.0" cy="203.1" r="1.82" fill="#850a30"/><circle cx="204.4" cy="183.1" r="1.82" fill="#850a30"/><circle cx="204.8" cy="199.9" r="1.82" fill="#850a30"/><circle cx="205.2" cy="196.8" r="1.82" fill="#850a30"/><circle cx="205.6" cy="212.6" r="1.82" fill="#850a30"/><circle cx="206.1" cy="206.9" r="1.82" fill="#850a30"/><circle cx="206.5" cy="211.4" r="1.82" fill="#850a30"/><circle cx="206.9" cy="199.2" r="1.82" fill="#850a30"/><circle cx="207.3" cy="163.2" r="1.82" fill="#850a30"/><circle cx="207.7" cy="184.4" r="1.82" fill="#850a30"/><circle cx="208.1" cy="158.7" r="1.82" fill="#850a30"/><circle cx="208.5" cy="172.9" r="1.82" fill="#850a30"/><circle cx="208.9" cy="186.1" r="1.82" fill="#850a30"/><circle cx="209.3" cy="175.7" r="1.82" fill="#850a30"/><circle cx="209.7" cy="163.4" r="1.82" fill="#850a30"/><circle cx="210.1" cy="165.2" r="1.82" fill="#850a30"/><circle cx="210.5" cy="206.5" r="1.82" fill="#850a30"/><circle cx="210.9" cy="188.5" r="1.82" fill="#850a30"/><circle cx="211.3" cy="172.4" r="1.82" fill="#850a30"/><circle cx="211.8" cy="127.8" r="1.82" fill="#850a30"/><circle cx="212.2" cy="148.7" r="1.82" fill="#850a30"/><circle cx="212.6" cy="198.9" r="1.82" fill="#850a30"/><circle cx="213.0" cy="146.0" r="1.82" fill="#850a30"/><circle cx="213.4" cy="184.3" r="1.82" fill="#850a30"/><circle cx="213.8" cy="178.4" r="1.82" fill="#850a30"/><circle cx="214.2" cy="135.7" r="1.82" fill="#850a30"/><circle cx="214.6" cy="119.9" r="1.82" fill="#850a30"/><circle cx="215.0" cy="122.1" r="1.82" fill="#850a30"/><circle cx="215.4" cy="123.4" r="1.82" fill="#850a30"/><circle cx="215.8" cy="141.2" r="1.82" fill="#850a30"/><circle cx="216.2" cy="132.9" r="1.82" fill="#850a30"/><circle cx="216.6" cy="174.0" r="1.82" fill="#850a30"/><circle cx="217.1" cy="131.4" r="1.82" fill="#850a30"/><circle cx="217.5" cy="171.9" r="1.82" fill="#850a30"/><circle cx="217.9" cy="157.4" r="1.82" fill="#850a30"/><circle cx="218.3" cy="180.4" r="1.82" fill="#850a30"/><circle cx="218.7" cy="183.9" r="1.82" fill="#850a30"/><circle cx="219.1" cy="169.9" r="1.82" fill="#850a30"/><circle cx="219.5" cy="140.6" r="1.82" fill="#850a30"/><circle cx="219.9" cy="151.4" r="1.82" fill="#850a30"/><circle cx="220.3" cy="157.7" r="1.82" fill="#850a30"/><circle cx="220.7" cy="177.0" r="1.82" fill="#850a30"/><circle cx="221.1" cy="123.8" r="1.82" fill="#850a30"/><circle cx="221.5" cy="133.7" r="1.82" fill="#850a30"/><circle cx="221.9" cy="171.5" r="1.82" fill="#850a30"/><circle cx="222.3" cy="139.9" r="1.82" fill="#850a30"/><circle cx="222.8" cy="121.0" r="1.82" fill="#850a30"/><circle cx="223.2" cy="134.6" r="1.82" fill="#850a30"/><circle cx="223.6" cy="130.6" r="1.82" fill="#850a30"/><circle cx="224.0" cy="124.2" r="1.82" fill="#850a30"/><circle cx="224.4" cy="137.2" r="1.82" fill="#850a30"/><circle cx="224.8" cy="132.9" r="1.82" fill="#850a30"/><circle cx="225.2" cy="167.1" r="1.82" fill="#850a30"/><circle cx="225.6" cy="183.7" r="1.82" fill="#850a30"/><circle cx="226.0" cy="155.5" r="1.82" fill="#850a30"/><circle cx="226.4" cy="144.7" r="1.82" fill="#850a30"/><circle cx="226.8" cy="147.2" r="1.82" fill="#850a30"/><circle cx="227.2" cy="140.1" r="1.82" fill="#850a30"/><circle cx="227.6" cy="182.8" r="1.82" fill="#850a30"/><circle cx="228.0" cy="147.8" r="1.82" fill="#850a30"/><circle cx="228.5" cy="131.6" r="1.82" fill="#850a30"/><circle cx="228.9" cy="148.4" r="1.82" fill="#850a30"/><circle cx="229.3" cy="125.0" r="1.82" fill="#850a30"/><circle cx="229.7" cy="142.1" r="1.82" fill="#850a30"/><circle cx="230.1" cy="150.8" r="1.82" fill="#850a30"/><circle cx="230.5" cy="144.3" r="1.82" fill="#850a30"/><circle cx="230.9" cy="165.5" r="1.82" fill="#850a30"/><circle cx="231.3" cy="118.6" r="1.82" fill="#850a30"/><circle cx="231.7" cy="128.2" r="1.82" fill="#850a30"/><circle cx="232.1" cy="136.8" r="1.82" fill="#850a30"/><circle cx="232.5" cy="110.3" r="1.82" fill="#850a30"/><circle cx="232.9" cy="143.7" r="1.82" fill="#850a30"/><circle cx="233.3" cy="146.3" r="1.82" fill="#850a30"/><circle cx="233.8" cy="181.9" r="1.82" fill="#850a30"/><circle cx="234.2" cy="141.8" r="1.82" fill="#850a30"/><circle cx="234.6" cy="128.2" r="1.82" fill="#850a30"/><circle cx="235.0" cy="124.7" r="1.82" fill="#850a30"/><circle cx="235.4" cy="138.5" r="1.82" fill="#850a30"/><circle cx="235.8" cy="159.0" r="1.82" fill="#850a30"/><circle cx="236.2" cy="130.5" r="1.82" fill="#850a30"/><circle cx="236.6" cy="157.8" r="1.82" fill="#850a30"/><circle cx="237.0" cy="153.2" r="1.82" fill="#850a30"/><circle cx="237.4" cy="109.0" r="1.82" fill="#850a30"/><circle cx="237.8" cy="158.5" r="1.82" fill="#850a30"/><circle cx="238.2" cy="123.8" r="1.82" fill="#850a30"/><circle cx="238.6" cy="158.2" r="1.82" fill="#850a30"/><circle cx="239.0" cy="153.9" r="1.82" fill="#850a30"/><circle cx="239.5" cy="173.4" r="1.82" fill="#850a30"/><circle cx="239.9" cy="129.1" r="1.82" fill="#850a30"/><circle cx="240.3" cy="178.8" r="1.82" fill="#850a30"/><circle cx="240.7" cy="123.0" r="1.82" fill="#850a30"/><circle cx="241.1" cy="172.8" r="1.82" fill="#850a30"/><circle cx="241.5" cy="126.7" r="1.82" fill="#850a30"/><circle cx="241.9" cy="178.1" r="1.82" fill="#850a30"/><circle cx="242.3" cy="176.1" r="1.82" fill="#850a30"/><circle cx="242.7" cy="174.7" r="1.82" fill="#850a30"/><circle cx="243.1" cy="159.9" r="1.82" fill="#850a30"/><circle cx="243.5" cy="165.6" r="1.82" fill="#850a30"/><circle cx="243.9" cy="153.8" r="1.82" fill="#850a30"/><circle cx="244.3" cy="128.3" r="1.82" fill="#850a30"/><circle cx="244.7" cy="122.5" r="1.82" fill="#850a30"/><circle cx="245.2" cy="111.3" r="1.82" fill="#850a30"/><circle cx="245.6" cy="147.5" r="1.82" fill="#850a30"/><circle cx="246.0" cy="150.7" r="1.82" fill="#850a30"/><circle cx="246.4" cy="179.3" r="1.82" fill="#850a30"/><circle cx="246.8" cy="111.2" r="1.82" fill="#850a30"/><circle cx="247.2" cy="146.7" r="1.82" fill="#850a30"/><circle cx="247.6" cy="117.6" r="1.82" fill="#850a30"/><circle cx="248.0" cy="109.0" r="1.82" fill="#850a30"/><circle cx="248.4" cy="154.2" r="1.82" fill="#850a30"/><circle cx="248.8" cy="163.3" r="1.82" fill="#850a30"/><circle cx="249.2" cy="129.3" r="1.82" fill="#850a30"/><circle cx="249.6" cy="178.4" r="1.82" fill="#850a30"/><circle cx="250.0" cy="137.6" r="1.82" fill="#850a30"/><circle cx="250.5" cy="128.8" r="1.82" fill="#850a30"/><circle cx="250.9" cy="109.0" r="1.82" fill="#850a30"/><circle cx="251.3" cy="126.2" r="1.82" fill="#850a30"/><circle cx="251.7" cy="157.8" r="1.82" fill="#850a30"/><circle cx="252.1" cy="168.6" r="1.82" fill="#850a30"/><circle cx="252.5" cy="159.3" r="1.82" fill="#850a30"/><circle cx="252.9" cy="179.7" r="1.82" fill="#850a30"/><circle cx="253.3" cy="131.1" r="1.82" fill="#850a30"/><circle cx="253.7" cy="120.9" r="1.82" fill="#850a30"/><circle cx="254.1" cy="163.9" r="1.82" fill="#850a30"/><circle cx="254.5" cy="119.4" r="1.82" fill="#850a30"/><circle cx="254.9" cy="146.7" r="1.82" fill="#850a30"/><circle cx="255.3" cy="139.3" r="1.82" fill="#850a30"/><circle cx="255.7" cy="124.5" r="1.82" fill="#850a30"/><circle cx="256.2" cy="136.1" r="1.82" fill="#850a30"/><circle cx="256.6" cy="139.7" r="1.82" fill="#850a30"/><circle cx="257.0" cy="160.8" r="1.82" fill="#850a30"/><circle cx="257.4" cy="135.2" r="1.82" fill="#850a30"/><circle cx="257.8" cy="116.3" r="1.82" fill="#850a30"/><circle cx="258.2" cy="155.4" r="1.82" fill="#850a30"/><circle cx="258.6" cy="142.5" r="1.82" fill="#850a30"/><circle cx="259.0" cy="113.5" r="1.82" fill="#850a30"/><circle cx="259.4" cy="168.8" r="1.82" fill="#850a30"/><circle cx="259.8" cy="150.9" r="1.82" fill="#850a30"/><circle cx="260.2" cy="162.0" r="1.82" fill="#850a30"/><circle cx="260.6" cy="117.5" r="1.82" fill="#850a30"/><circle cx="261.0" cy="171.5" r="1.82" fill="#850a30"/><circle cx="261.4" cy="169.9" r="1.82" fill="#850a30"/><circle cx="261.9" cy="174.4" r="1.82" fill="#850a30"/><circle cx="262.3" cy="146.9" r="1.82" fill="#850a30"/><circle cx="262.7" cy="169.6" r="1.82" fill="#850a30"/><circle cx="263.1" cy="134.4" r="1.82" fill="#850a30"/><circle cx="263.5" cy="111.6" r="1.82" fill="#850a30"/><circle cx="263.9" cy="178.6" r="1.82" fill="#850a30"/><circle cx="264.3" cy="138.8" r="1.82" fill="#850a30"/><circle cx="264.7" cy="112.6" r="1.82" fill="#850a30"/><circle cx="265.1" cy="176.2" r="1.82" fill="#850a30"/><circle cx="265.5" cy="178.4" r="1.82" fill="#850a30"/><circle cx="265.9" cy="118.5" r="1.82" fill="#850a30"/><circle cx="266.3" cy="146.1" r="1.82" fill="#850a30"/><circle cx="266.7" cy="139.5" r="1.82" fill="#850a30"/><circle cx="267.1" cy="134.8" r="1.82" fill="#850a30"/><circle cx="267.6" cy="148.7" r="1.82" fill="#850a30"/><circle cx="268.0" cy="118.8" r="1.82" fill="#850a30"/><circle cx="268.4" cy="162.6" r="1.82" fill="#850a30"/><circle cx="268.8" cy="132.3" r="1.82" fill="#850a30"/><circle cx="269.2" cy="124.3" r="1.82" fill="#850a30"/><circle cx="269.6" cy="165.8" r="1.82" fill="#850a30"/><circle cx="270.0" cy="128.8" r="1.82" fill="#850a30"/><circle cx="270.4" cy="172.0" r="1.82" fill="#850a30"/><circle cx="270.8" cy="164.8" r="1.82" fill="#850a30"/><circle cx="271.2" cy="179.2" r="1.82" fill="#850a30"/><circle cx="271.6" cy="147.8" r="1.82" fill="#850a30"/><circle cx="272.0" cy="163.7" r="1.82" fill="#850a30"/><circle cx="272.4" cy="159.7" r="1.82" fill="#850a30"/><circle cx="272.9" cy="139.7" r="1.82" fill="#850a30"/><circle cx="273.3" cy="133.8" r="1.82" fill="#850a30"/><circle cx="273.7" cy="148.7" r="1.82" fill="#850a30"/><circle cx="274.1" cy="153.2" r="1.82" fill="#850a30"/><circle cx="274.5" cy="136.2" r="1.82" fill="#850a30"/><circle cx="274.9" cy="146.9" r="1.82" fill="#850a30"/><circle cx="275.3" cy="170.5" r="1.82" fill="#850a30"/><circle cx="275.7" cy="139.7" r="1.82" fill="#850a30"/><circle cx="276.1" cy="132.7" r="1.82" fill="#850a30"/><circle cx="276.5" cy="160.1" r="1.82" fill="#850a30"/><circle cx="276.9" cy="182.1" r="1.82" fill="#850a30"/><circle cx="277.3" cy="158.4" r="1.82" fill="#850a30"/><circle cx="277.7" cy="173.0" r="1.82" fill="#850a30"/><circle cx="278.1" cy="165.8" r="1.82" fill="#850a30"/><circle cx="278.6" cy="162.3" r="1.82" fill="#850a30"/><circle cx="279.0" cy="158.1" r="1.82" fill="#850a30"/><circle cx="279.4" cy="164.4" r="1.82" fill="#850a30"/><circle cx="279.8" cy="158.8" r="1.82" fill="#850a30"/><circle cx="280.2" cy="151.7" r="1.82" fill="#850a30"/><circle cx="280.6" cy="158.1" r="1.82" fill="#850a30"/><circle cx="281.0" cy="181.0" r="1.82" fill="#850a30"/><circle cx="281.4" cy="175.6" r="1.82" fill="#850a30"/><circle cx="281.8" cy="166.6" r="1.82" fill="#850a30"/><circle cx="282.2" cy="157.2" r="1.82" fill="#850a30"/><circle cx="282.6" cy="155.4" r="1.82" fill="#850a30"/><circle cx="283.0" cy="170.5" r="1.82" fill="#850a30"/><circle cx="283.4" cy="196.9" r="1.82" fill="#850a30"/><circle cx="283.8" cy="175.1" r="1.82" fill="#850a30"/><circle cx="284.3" cy="182.8" r="1.82" fill="#850a30"/><circle cx="284.7" cy="192.7" r="1.82" fill="#850a30"/><circle cx="285.1" cy="175.8" r="1.82" fill="#850a30"/><circle cx="285.5" cy="189.9" r="1.82" fill="#850a30"/><circle cx="285.9" cy="163.1" r="1.82" fill="#850a30"/><circle cx="286.3" cy="193.1" r="1.82" fill="#850a30"/><circle cx="286.7" cy="175.8" r="1.82" fill="#850a30"/><circle cx="287.1" cy="196.6" r="1.82" fill="#850a30"/><circle cx="287.5" cy="195.1" r="1.82" fill="#850a30"/><circle cx="287.9" cy="187.6" r="1.82" fill="#850a30"/><circle cx="288.3" cy="198.7" r="1.82" fill="#850a30"/><circle cx="288.7" cy="173.8" r="1.82" fill="#850a30"/><circle cx="289.1" cy="169.9" r="1.82" fill="#850a30"/><circle cx="289.6" cy="195.1" r="1.82" fill="#850a30"/><circle cx="290.0" cy="201.5" r="1.82" fill="#850a30"/><circle cx="290.4" cy="186.1" r="1.82" fill="#850a30"/><circle cx="290.8" cy="199.1" r="1.82" fill="#850a30"/><circle cx="291.2" cy="188.6" r="1.82" fill="#850a30"/><circle cx="291.6" cy="201.8" r="1.82" fill="#850a30"/><circle cx="292.0" cy="200.0" r="1.82" fill="#850a30"/><circle cx="292.4" cy="184.9" r="1.82" fill="#850a30"/><circle cx="292.8" cy="198.5" r="1.82" fill="#850a30"/><circle cx="293.2" cy="202.0" r="1.82" fill="#850a30"/><circle cx="293.6" cy="189.9" r="1.82" fill="#850a30"/><circle cx="294.0" cy="209.4" r="1.82" fill="#850a30"/><circle cx="294.4" cy="207.9" r="1.82" fill="#850a30"/><circle cx="294.8" cy="196.5" r="1.82" fill="#850a30"/><circle cx="295.3" cy="190.8" r="1.82" fill="#850a30"/><circle cx="295.7" cy="204.8" r="1.82" fill="#850a30"/><circle cx="296.1" cy="197.5" r="1.82" fill="#850a30"/><circle cx="296.5" cy="217.4" r="1.82" fill="#850a30"/><circle cx="296.9" cy="208.6" r="1.82" fill="#850a30"/><circle cx="297.3" cy="205.1" r="1.82" fill="#850a30"/><circle cx="297.7" cy="205.3" r="1.82" fill="#850a30"/><circle cx="298.1" cy="213.0" r="1.82" fill="#850a30"/><circle cx="298.5" cy="222.3" r="1.82" fill="#850a30"/><circle cx="298.9" cy="202.3" r="1.82" fill="#850a30"/><circle cx="299.3" cy="225.0" r="1.82" fill="#850a30"/><circle cx="299.7" cy="213.5" r="1.82" fill="#850a30"/><circle cx="300.1" cy="217.3" r="1.82" fill="#850a30"/><circle cx="300.5" cy="208.9" r="1.82" fill="#850a30"/><circle cx="301.0" cy="219.9" r="1.82" fill="#850a30"/><circle cx="301.4" cy="220.2" r="1.82" fill="#850a30"/><circle cx="301.8" cy="230.7" r="1.82" fill="#850a30"/><circle cx="302.2" cy="213.2" r="1.82" fill="#850a30"/><circle cx="302.6" cy="211.7" r="1.82" fill="#850a30"/><circle cx="303.0" cy="209.7" r="1.82" fill="#850a30"/><circle cx="303.4" cy="212.5" r="1.82" fill="#850a30"/><circle cx="303.8" cy="211.7" r="1.82" fill="#850a30"/><circle cx="304.2" cy="221.0" r="1.82" fill="#850a30"/><circle cx="304.6" cy="213.5" r="1.82" fill="#850a30"/><circle cx="305.0" cy="224.9" r="1.82" fill="#850a30"/><circle cx="305.4" cy="213.9" r="1.82" fill="#850a30"/><circle cx="305.8" cy="213.1" r="1.82" fill="#850a30"/><circle cx="306.3" cy="229.1" r="1.82" fill="#850a30"/><circle cx="306.7" cy="214.2" r="1.82" fill="#850a30"/><circle cx="307.1" cy="229.7" r="1.82" fill="#850a30"/><circle cx="307.5" cy="227.4" r="1.82" fill="#850a30"/><circle cx="307.9" cy="224.9" r="1.82" fill="#850a30"/><circle cx="308.3" cy="245.5" r="1.82" fill="#850a30"/><circle cx="308.7" cy="239.2" r="1.82" fill="#850a30"/><circle cx="309.1" cy="226.3" r="1.82" fill="#850a30"/><circle cx="309.5" cy="217.4" r="1.82" fill="#850a30"/><circle cx="309.9" cy="244.5" r="1.82" fill="#850a30"/><circle cx="310.3" cy="243.8" r="1.82" fill="#850a30"/><circle cx="310.7" cy="220.7" r="1.82" fill="#850a30"/><circle cx="311.1" cy="244.2" r="1.82" fill="#850a30"/><circle cx="311.5" cy="237.5" r="1.82" fill="#850a30"/><circle cx="312.0" cy="243.0" r="1.82" fill="#850a30"/><circle cx="312.4" cy="241.7" r="1.82" fill="#850a30"/><circle cx="312.8" cy="229.5" r="1.82" fill="#850a30"/><circle cx="313.2" cy="228.8" r="1.82" fill="#850a30"/><circle cx="313.6" cy="221.5" r="1.82" fill="#850a30"/><circle cx="314.0" cy="223.7" r="1.82" fill="#850a30"/><circle cx="314.4" cy="222.3" r="1.82" fill="#850a30"/><circle cx="314.8" cy="241.8" r="1.82" fill="#850a30"/><circle cx="315.2" cy="235.9" r="1.82" fill="#850a30"/><circle cx="315.6" cy="246.3" r="1.82" fill="#850a30"/><circle cx="316.0" cy="236.9" r="1.82" fill="#850a30"/><circle cx="316.4" cy="237.0" r="1.82" fill="#850a30"/><circle cx="316.8" cy="239.9" r="1.82" fill="#850a30"/><circle cx="317.2" cy="244.5" r="1.82" fill="#850a30"/><circle cx="317.7" cy="234.7" r="1.82" fill="#850a30"/><circle cx="318.1" cy="227.5" r="1.82" fill="#850a30"/><circle cx="318.5" cy="235.3" r="1.82" fill="#850a30"/><circle cx="318.9" cy="238.0" r="1.82" fill="#850a30"/><circle cx="319.3" cy="250.0" r="1.82" fill="#850a30"/><circle cx="319.7" cy="238.1" r="1.82" fill="#850a30"/><circle cx="320.1" cy="236.3" r="1.82" fill="#850a30"/><circle cx="320.5" cy="246.8" r="1.82" fill="#850a30"/><circle cx="320.9" cy="252.0" r="1.82" fill="#850a30"/><circle cx="321.3" cy="245.8" r="1.82" fill="#850a30"/><circle cx="321.7" cy="234.7" r="1.82" fill="#850a30"/><circle cx="322.1" cy="227.4" r="1.82" fill="#850a30"/><circle cx="322.5" cy="230.7" r="1.82" fill="#850a30"/><circle cx="323.0" cy="252.1" r="1.82" fill="#850a30"/><circle cx="323.4" cy="254.7" r="1.82" fill="#850a30"/><circle cx="323.8" cy="253.3" r="1.82" fill="#850a30"/><circle cx="324.2" cy="246.7" r="1.82" fill="#850a30"/><circle cx="324.6" cy="250.4" r="1.82" fill="#850a30"/><circle cx="325.0" cy="233.9" r="1.82" fill="#850a30"/><circle cx="325.4" cy="249.4" r="1.82" fill="#850a30"/><circle cx="325.8" cy="243.4" r="1.82" fill="#850a30"/><circle cx="326.2" cy="234.8" r="1.82" fill="#850a30"/><circle cx="326.6" cy="235.7" r="1.82" fill="#850a30"/><circle cx="327.0" cy="253.2" r="1.82" fill="#850a30"/><circle cx="327.4" cy="232.1" r="1.82" fill="#850a30"/><circle cx="327.8" cy="261.0" r="1.82" fill="#850a30"/><circle cx="328.2" cy="237.7" r="1.82" fill="#850a30"/><circle cx="328.7" cy="248.6" r="1.82" fill="#850a30"/><circle cx="329.1" cy="237.0" r="1.82" fill="#850a30"/><circle cx="329.5" cy="240.3" r="1.82" fill="#850a30"/><circle cx="329.9" cy="244.3" r="1.82" fill="#850a30"/><circle cx="330.3" cy="238.6" r="1.82" fill="#850a30"/><circle cx="330.7" cy="257.9" r="1.82" fill="#850a30"/><circle cx="331.1" cy="239.2" r="1.82" fill="#850a30"/><circle cx="331.5" cy="241.1" r="1.82" fill="#850a30"/><circle cx="331.9" cy="249.4" r="1.82" fill="#850a30"/><circle cx="332.3" cy="252.9" r="1.82" fill="#850a30"/><circle cx="332.7" cy="248.2" r="1.82" fill="#850a30"/><circle cx="333.1" cy="261.2" r="1.82" fill="#850a30"/><circle cx="333.5" cy="259.0" r="1.82" fill="#850a30"/><circle cx="333.9" cy="239.9" r="1.82" fill="#850a30"/><circle cx="334.4" cy="256.5" r="1.82" fill="#850a30"/><circle cx="334.8" cy="258.0" r="1.82" fill="#850a30"/><circle cx="335.2" cy="243.1" r="1.82" fill="#850a30"/><circle cx="335.6" cy="256.4" r="1.82" fill="#850a30"/><circle cx="336.0" cy="258.4" r="1.82" fill="#850a30"/><circle cx="336.4" cy="254.2" r="1.82" fill="#850a30"/><circle cx="336.8" cy="262.3" r="1.82" fill="#850a30"/><circle cx="337.2" cy="263.0" r="1.82" fill="#850a30"/><circle cx="337.6" cy="268.8" r="1.82" fill="#850a30"/><circle cx="338.0" cy="258.6" r="1.82" fill="#850a30"/><circle cx="338.4" cy="254.6" r="1.82" fill="#850a30"/><circle cx="338.8" cy="267.3" r="1.82" fill="#850a30"/><circle cx="339.2" cy="259.9" r="1.82" fill="#850a30"/><circle cx="339.6" cy="254.1" r="1.82" fill="#850a30"/><circle cx="340.1" cy="278.1" r="1.82" fill="#850a30"/><circle cx="340.5" cy="277.1" r="1.82" fill="#850a30"/><circle cx="340.9" cy="264.4" r="1.82" fill="#850a30"/><circle cx="341.3" cy="272.0" r="1.82" fill="#850a30"/><circle cx="341.7" cy="267.4" r="1.82" fill="#850a30"/><circle cx="342.1" cy="270.1" r="1.82" fill="#850a30"/><circle cx="342.5" cy="279.9" r="1.82" fill="#850a30"/><circle cx="342.9" cy="278.5" r="1.82" fill="#850a30"/><circle cx="343.3" cy="268.5" r="1.82" fill="#850a30"/><circle cx="343.7" cy="285.0" r="1.82" fill="#850a30"/><circle cx="344.1" cy="283.2" r="1.82" fill="#850a30"/><circle cx="344.5" cy="280.6" r="1.82" fill="#850a30"/><circle cx="344.9" cy="268.3" r="1.82" fill="#850a30"/><circle cx="345.4" cy="275.4" r="1.82" fill="#850a30"/><circle cx="345.8" cy="291.1" r="1.82" fill="#850a30"/><circle cx="346.2" cy="279.5" r="1.82" fill="#850a30"/><circle cx="346.6" cy="277.4" r="1.82" fill="#850a30"/><circle cx="347.0" cy="277.1" r="1.82" fill="#850a30"/><circle cx="347.4" cy="273.4" r="1.82" fill="#850a30"/><circle cx="347.8" cy="278.3" r="1.82" fill="#850a30"/><circle cx="348.2" cy="272.2" r="1.82" fill="#850a30"/><circle cx="348.6" cy="275.9" r="1.82" fill="#850a30"/><circle cx="349.0" cy="277.6" r="1.82" fill="#850a30"/><circle cx="349.4" cy="277.6" r="1.82" fill="#850a30"/><circle cx="349.8" cy="264.8" r="1.82" fill="#850a30"/><circle cx="350.2" cy="285.6" r="1.82" fill="#850a30"/><circle cx="350.6" cy="286.1" r="1.82" fill="#850a30"/><circle cx="351.1" cy="287.8" r="1.82" fill="#850a30"/><circle cx="351.5" cy="265.7" r="1.82" fill="#850a30"/><circle cx="351.9" cy="272.4" r="1.82" fill="#850a30"/><circle cx="352.3" cy="287.4" r="1.82" fill="#850a30"/><circle cx="352.7" cy="280.8" r="1.82" fill="#850a30"/><circle cx="353.1" cy="266.6" r="1.82" fill="#850a30"/><circle cx="353.5" cy="276.4" r="1.82" fill="#850a30"/><circle cx="353.9" cy="285.5" r="1.82" fill="#850a30"/><circle cx="354.3" cy="288.1" r="1.82" fill="#850a30"/><circle cx="354.7" cy="274.0" r="1.82" fill="#850a30"/><circle cx="355.1" cy="276.8" r="1.82" fill="#850a30"/><circle cx="355.5" cy="280.3" r="1.82" fill="#850a30"/><circle cx="355.9" cy="278.5" r="1.82" fill="#850a30"/><circle cx="356.3" cy="277.6" r="1.82" fill="#850a30"/><circle cx="356.8" cy="284.0" r="1.82" fill="#850a30"/><circle cx="357.2" cy="285.9" r="1.82" fill="#850a30"/><circle cx="357.6" cy="277.4" r="1.82" fill="#850a30"/><circle cx="358.0" cy="266.8" r="1.82" fill="#850a30"/><circle cx="358.4" cy="267.7" r="1.82" fill="#850a30"/><circle cx="358.8" cy="289.4" r="1.82" fill="#850a30"/><circle cx="359.2" cy="285.4" r="1.82" fill="#850a30"/><circle cx="359.6" cy="275.3" r="1.82" fill="#850a30"/><circle cx="360.0" cy="271.7" r="1.82" fill="#850a30"/><circle cx="360.4" cy="266.0" r="1.82" fill="#850a30"/><circle cx="360.8" cy="284.9" r="1.82" fill="#850a30"/><circle cx="361.2" cy="274.2" r="1.82" fill="#850a30"/><circle cx="361.6" cy="282.5" r="1.82" fill="#850a30"/><circle cx="362.1" cy="282.6" r="1.82" fill="#850a30"/><circle cx="362.5" cy="286.3" r="1.82" fill="#850a30"/><circle cx="362.9" cy="280.4" r="1.82" fill="#850a30"/><circle cx="363.3" cy="287.5" r="1.82" fill="#850a30"/><circle cx="363.7" cy="263.4" r="1.82" fill="#850a30"/><circle cx="364.1" cy="274.7" r="1.82" fill="#850a30"/><circle cx="364.5" cy="278.8" r="1.82" fill="#850a30"/><circle cx="364.9" cy="273.2" r="1.82" fill="#850a30"/><circle cx="365.3" cy="265.4" r="1.82" fill="#850a30"/><circle cx="365.7" cy="266.3" r="1.82" fill="#850a30"/><circle cx="366.1" cy="276.6" r="1.82" fill="#850a30"/><circle cx="366.5" cy="271.2" r="1.82" fill="#850a30"/><circle cx="366.9" cy="279.5" r="1.82" fill="#850a30"/><circle cx="367.3" cy="278.5" r="1.82" fill="#850a30"/><circle cx="367.8" cy="282.5" r="1.82" fill="#850a30"/><circle cx="368.2" cy="282.1" r="1.82" fill="#850a30"/><circle cx="368.6" cy="272.6" r="1.82" fill="#850a30"/><circle cx="369.0" cy="265.9" r="1.82" fill="#850a30"/><circle cx="369.4" cy="276.1" r="1.82" fill="#850a30"/><circle cx="369.8" cy="268.9" r="1.82" fill="#850a30"/><circle cx="370.2" cy="282.7" r="1.82" fill="#850a30"/><circle cx="370.6" cy="277.4" r="1.82" fill="#850a30"/><circle cx="371.0" cy="278.0" r="1.82" fill="#850a30"/><circle cx="371.4" cy="264.5" r="1.82" fill="#850a30"/><circle cx="371.8" cy="282.2" r="1.82" fill="#850a30"/><circle cx="372.2" cy="274.7" r="1.82" fill="#850a30"/><circle cx="372.6" cy="284.3" r="1.82" fill="#850a30"/><circle cx="373.0" cy="282.8" r="1.82" fill="#850a30"/><circle cx="373.5" cy="262.3" r="1.82" fill="#850a30"/><circle cx="373.9" cy="280.3" r="1.82" fill="#850a30"/><circle cx="374.3" cy="283.1" r="1.82" fill="#850a30"/><circle cx="374.7" cy="262.4" r="1.82" fill="#850a30"/><circle cx="375.1" cy="274.0" r="1.82" fill="#850a30"/><circle cx="375.5" cy="282.4" r="1.82" fill="#850a30"/><circle cx="375.9" cy="285.4" r="1.82" fill="#850a30"/><circle cx="376.3" cy="283.7" r="1.82" fill="#850a30"/><circle cx="376.7" cy="261.9" r="1.82" fill="#850a30"/><circle cx="377.1" cy="260.9" r="1.82" fill="#850a30"/><circle cx="377.5" cy="288.5" r="1.82" fill="#850a30"/><circle cx="377.9" cy="277.4" r="1.82" fill="#850a30"/><circle cx="378.3" cy="286.1" r="1.82" fill="#850a30"/><circle cx="378.8" cy="272.1" r="1.82" fill="#850a30"/><circle cx="379.2" cy="279.1" r="1.82" fill="#850a30"/><circle cx="379.6" cy="272.8" r="1.82" fill="#850a30"/><circle cx="380.0" cy="267.6" r="1.82" fill="#850a30"/><circle cx="380.4" cy="284.1" r="1.82" fill="#850a30"/><circle cx="380.8" cy="282.3" r="1.82" fill="#850a30"/><circle cx="381.2" cy="271.4" r="1.82" fill="#850a30"/><circle cx="381.6" cy="262.2" r="1.82" fill="#850a30"/><circle cx="382.0" cy="274.6" r="1.82" fill="#850a30"/><circle cx="382.4" cy="269.9" r="1.82" fill="#850a30"/><circle cx="382.8" cy="286.4" r="1.82" fill="#850a30"/><circle cx="383.2" cy="274.3" r="1.82" fill="#850a30"/><circle cx="383.6" cy="275.0" r="1.82" fill="#850a30"/><circle cx="384.0" cy="263.0" r="1.82" fill="#850a30"/><circle cx="384.5" cy="283.5" r="1.82" fill="#850a30"/><circle cx="384.9" cy="270.0" r="1.82" fill="#850a30"/><circle cx="385.3" cy="270.1" r="1.82" fill="#850a30"/><circle cx="385.7" cy="287.0" r="1.82" fill="#850a30"/><circle cx="386.1" cy="269.2" r="1.82" fill="#850a30"/><circle cx="386.5" cy="281.9" r="1.82" fill="#850a30"/><circle cx="386.9" cy="272.2" r="1.82" fill="#850a30"/><circle cx="387.3" cy="267.4" r="1.82" fill="#850a30"/><circle cx="387.7" cy="279.1" r="1.82" fill="#850a30"/><circle cx="388.1" cy="284.6" r="1.82" fill="#850a30"/><circle cx="388.5" cy="273.2" r="1.82" fill="#850a30"/><circle cx="388.9" cy="278.3" r="1.82" fill="#850a30"/><circle cx="389.3" cy="283.9" r="1.82" fill="#850a30"/><circle cx="389.7" cy="284.0" r="1.82" fill="#850a30"/><circle cx="390.2" cy="270.5" r="1.82" fill="#850a30"/><circle cx="390.6" cy="277.4" r="1.82" fill="#850a30"/><circle cx="391.0" cy="284.4" r="1.82" fill="#850a30"/><circle cx="391.4" cy="268.1" r="1.82" fill="#850a30"/><circle cx="391.8" cy="268.7" r="1.82" fill="#850a30"/><circle cx="392.2" cy="277.2" r="1.82" fill="#850a30"/><circle cx="392.6" cy="269.9" r="1.82" fill="#850a30"/><circle cx="393.0" cy="271.7" r="1.82" fill="#850a30"/><circle cx="393.4" cy="270.2" r="1.82" fill="#850a30"/><circle cx="393.8" cy="287.4" r="1.82" fill="#850a30"/><circle cx="394.2" cy="271.0" r="1.82" fill="#850a30"/><circle cx="394.6" cy="281.7" r="1.82" fill="#850a30"/><circle cx="395.0" cy="277.3" r="1.82" fill="#850a30"/><circle cx="395.4" cy="267.2" r="1.82" fill="#850a30"/><circle cx="395.9" cy="277.4" r="1.82" fill="#850a30"/><circle cx="396.3" cy="281.2" r="1.82" fill="#850a30"/><circle cx="396.7" cy="282.7" r="1.82" fill="#850a30"/><circle cx="397.1" cy="288.0" r="1.82" fill="#850a30"/><circle cx="397.5" cy="279.0" r="1.82" fill="#850a30"/><circle cx="397.9" cy="278.5" r="1.82" fill="#850a30"/><circle cx="398.3" cy="277.2" r="1.82" fill="#850a30"/><circle cx="398.7" cy="274.3" r="1.82" fill="#850a30"/><circle cx="399.1" cy="275.4" r="1.82" fill="#850a30"/><circle cx="399.5" cy="268.7" r="1.82" fill="#850a30"/><circle cx="399.9" cy="278.9" r="1.82" fill="#850a30"/><circle cx="400.3" cy="281.5" r="1.82" fill="#850a30"/><circle cx="400.7" cy="269.2" r="1.82" fill="#850a30"/><circle cx="401.2" cy="267.3" r="1.82" fill="#850a30"/><circle cx="401.6" cy="274.7" r="1.82" fill="#850a30"/><circle cx="402.0" cy="283.3" r="1.82" fill="#850a30"/><circle cx="402.4" cy="270.8" r="1.82" fill="#850a30"/><circle cx="402.8" cy="270.3" r="1.82" fill="#850a30"/><circle cx="403.2" cy="270.8" r="1.82" fill="#850a30"/><circle cx="403.6" cy="282.6" r="1.82" fill="#850a30"/><circle cx="404.0" cy="286.3" r="1.82" fill="#850a30"/><circle cx="404.4" cy="270.6" r="1.82" fill="#850a30"/><circle cx="404.8" cy="276.6" r="1.82" fill="#850a30"/><circle cx="405.2" cy="271.0" r="1.82" fill="#850a30"/><circle cx="405.6" cy="281.1" r="1.82" fill="#850a30"/><circle cx="406.0" cy="285.2" r="1.82" fill="#850a30"/><circle cx="406.4" cy="278.8" r="1.82" fill="#850a30"/><circle cx="406.9" cy="271.6" r="1.82" fill="#850a30"/><circle cx="407.3" cy="274.1" r="1.82" fill="#850a30"/><circle cx="407.7" cy="274.7" r="1.82" fill="#850a30"/><circle cx="408.1" cy="277.2" r="1.82" fill="#850a30"/><circle cx="408.5" cy="287.8" r="1.82" fill="#850a30"/><circle cx="408.9" cy="285.2" r="1.82" fill="#850a30"/><circle cx="409.3" cy="279.7" r="1.82" fill="#850a30"/><circle cx="409.7" cy="283.3" r="1.82" fill="#850a30"/><circle cx="410.1" cy="289.5" r="1.82" fill="#850a30"/><circle cx="410.5" cy="281.7" r="1.82" fill="#850a30"/><circle cx="410.9" cy="283.7" r="1.82" fill="#850a30"/><circle cx="411.3" cy="281.9" r="1.82" fill="#850a30"/><circle cx="411.7" cy="278.7" r="1.82" fill="#850a30"/><circle cx="412.1" cy="279.5" r="1.82" fill="#850a30"/><circle cx="412.6" cy="288.1" r="1.82" fill="#850a30"/><circle cx="413.0" cy="274.5" r="1.82" fill="#850a30"/><circle cx="413.4" cy="276.1" r="1.82" fill="#850a30"/><circle cx="413.8" cy="290.1" r="1.82" fill="#850a30"/><circle cx="414.2" cy="274.9" r="1.82" fill="#850a30"/><circle cx="414.6" cy="283.9" r="1.82" fill="#850a30"/><circle cx="415.0" cy="282.6" r="1.82" fill="#850a30"/><circle cx="415.4" cy="279.5" r="1.82" fill="#850a30"/><circle cx="415.8" cy="287.6" r="1.82" fill="#850a30"/><circle cx="416.2" cy="275.0" r="1.82" fill="#850a30"/><circle cx="416.6" cy="280.5" r="1.82" fill="#850a30"/><circle cx="417.0" cy="288.7" r="1.82" fill="#850a30"/><circle cx="417.4" cy="272.4" r="1.82" fill="#850a30"/><circle cx="417.9" cy="281.6" r="1.82" fill="#850a30"/><circle cx="418.3" cy="276.5" r="1.82" fill="#850a30"/><circle cx="418.7" cy="288.8" r="1.82" fill="#850a30"/><circle cx="419.1" cy="284.0" r="1.82" fill="#850a30"/><circle cx="419.5" cy="281.4" r="1.82" fill="#850a30"/><circle cx="419.9" cy="280.9" r="1.82" fill="#850a30"/><circle cx="420.3" cy="271.1" r="1.82" fill="#850a30"/><circle cx="420.7" cy="288.2" r="1.82" fill="#850a30"/><circle cx="421.1" cy="285.1" r="1.82" fill="#850a30"/><circle cx="421.5" cy="289.0" r="1.82" fill="#850a30"/><circle cx="421.9" cy="291.4" r="1.82" fill="#850a30"/><circle cx="422.3" cy="290.0" r="1.82" fill="#850a30"/><circle cx="422.7" cy="277.3" r="1.82" fill="#850a30"/><circle cx="423.1" cy="278.9" r="1.82" fill="#850a30"/><circle cx="423.6" cy="284.1" r="1.82" fill="#850a30"/><circle cx="424.0" cy="289.8" r="1.82" fill="#850a30"/><circle cx="424.4" cy="281.3" r="1.82" fill="#850a30"/><circle cx="424.8" cy="289.5" r="1.82" fill="#850a30"/><circle cx="425.2" cy="286.4" r="1.82" fill="#850a30"/><circle cx="425.6" cy="288.8" r="1.82" fill="#850a30"/><circle cx="426.0" cy="287.0" r="1.82" fill="#850a30"/><circle cx="426.4" cy="280.0" r="1.82" fill="#850a30"/><circle cx="426.8" cy="288.5" r="1.82" fill="#850a30"/><circle cx="427.2" cy="284.5" r="1.82" fill="#850a30"/><circle cx="427.6" cy="279.2" r="1.82" fill="#850a30"/><circle cx="428.0" cy="284.7" r="1.82" fill="#850a30"/><circle cx="428.4" cy="284.0" r="1.82" fill="#850a30"/><circle cx="428.8" cy="278.4" r="1.82" fill="#850a30"/><circle cx="429.3" cy="283.3" r="1.82" fill="#850a30"/><circle cx="429.7" cy="287.7" r="1.82" fill="#850a30"/><circle cx="430.1" cy="285.9" r="1.82" fill="#850a30"/><circle cx="430.5" cy="292.8" r="1.82" fill="#850a30"/><circle cx="430.9" cy="281.2" r="1.82" fill="#850a30"/><circle cx="431.3" cy="285.9" r="1.82" fill="#850a30"/><circle cx="431.7" cy="280.1" r="1.82" fill="#850a30"/><circle cx="432.1" cy="288.9" r="1.82" fill="#850a30"/><circle cx="432.5" cy="277.1" r="1.82" fill="#850a30"/><circle cx="432.9" cy="278.8" r="1.82" fill="#850a30"/><circle cx="433.3" cy="290.3" r="1.82" fill="#850a30"/><circle cx="433.7" cy="281.5" r="1.82" fill="#850a30"/><circle cx="434.1" cy="285.0" r="1.82" fill="#850a30"/><circle cx="434.6" cy="285.1" r="1.82" fill="#850a30"/><circle cx="435.0" cy="290.4" r="1.82" fill="#850a30"/><circle cx="435.4" cy="281.3" r="1.82" fill="#850a30"/><circle cx="435.8" cy="283.1" r="1.82" fill="#850a30"/><circle cx="436.2" cy="280.0" r="1.82" fill="#850a30"/><circle cx="436.6" cy="291.9" r="1.82" fill="#850a30"/><circle cx="437.0" cy="292.4" r="1.82" fill="#850a30"/><circle cx="437.4" cy="293.1" r="1.82" fill="#850a30"/><circle cx="437.8" cy="283.2" r="1.82" fill="#850a30"/><circle cx="438.2" cy="283.9" r="1.82" fill="#850a30"/><circle cx="438.6" cy="290.5" r="1.82" fill="#850a30"/><circle cx="439.0" cy="292.2" r="1.82" fill="#850a30"/><circle cx="439.4" cy="280.2" r="1.82" fill="#850a30"/><circle cx="439.8" cy="288.3" r="1.82" fill="#850a30"/><circle cx="440.3" cy="279.6" r="1.82" fill="#850a30"/><circle cx="440.7" cy="284.7" r="1.82" fill="#850a30"/><circle cx="441.1" cy="282.1" r="1.82" fill="#850a30"/><circle cx="441.5" cy="283.4" r="1.82" fill="#850a30"/><circle cx="441.9" cy="291.5" r="1.82" fill="#850a30"/><circle cx="442.3" cy="282.7" r="1.82" fill="#850a30"/><circle cx="442.7" cy="290.1" r="1.82" fill="#850a30"/><circle cx="443.1" cy="285.2" r="1.82" fill="#850a30"/><circle cx="443.5" cy="283.6" r="1.82" fill="#850a30"/><circle cx="443.9" cy="286.6" r="1.82" fill="#850a30"/><circle cx="444.3" cy="293.6" r="1.82" fill="#850a30"/><circle cx="444.7" cy="284.2" r="1.82" fill="#850a30"/><circle cx="445.1" cy="293.5" r="1.82" fill="#850a30"/><circle cx="445.5" cy="288.0" r="1.82" fill="#850a30"/><circle cx="446.0" cy="292.7" r="1.82" fill="#850a30"/><circle cx="446.4" cy="284.8" r="1.82" fill="#850a30"/><circle cx="446.8" cy="287.2" r="1.82" fill="#850a30"/><circle cx="447.2" cy="285.1" r="1.82" fill="#850a30"/><circle cx="447.6" cy="293.1" r="1.82" fill="#850a30"/><circle cx="448.0" cy="285.5" r="1.82" fill="#850a30"/><circle cx="448.4" cy="285.1" r="1.82" fill="#850a30"/><circle cx="448.8" cy="282.0" r="1.82" fill="#850a30"/><circle cx="449.2" cy="289.7" r="1.82" fill="#850a30"/><circle cx="449.6" cy="285.5" r="1.82" fill="#850a30"/><circle cx="450.0" cy="293.0" r="1.82" fill="#850a30"/><circle cx="450.4" cy="284.3" r="1.82" fill="#850a30"/><circle cx="450.8" cy="283.0" r="1.82" fill="#850a30"/><circle cx="451.2" cy="288.0" r="1.82" fill="#850a30"/><circle cx="451.7" cy="291.3" r="1.82" fill="#850a30"/><circle cx="452.1" cy="282.3" r="1.82" fill="#850a30"/><circle cx="452.5" cy="286.9" r="1.82" fill="#850a30"/><circle cx="452.9" cy="288.3" r="1.82" fill="#850a30"/><circle cx="453.3" cy="285.6" r="1.82" fill="#850a30"/><circle cx="453.7" cy="289.2" r="1.82" fill="#850a30"/><circle cx="454.1" cy="283.0" r="1.82" fill="#850a30"/><circle cx="454.5" cy="289.4" r="1.82" fill="#850a30"/><circle cx="454.9" cy="292.7" r="1.82" fill="#850a30"/><circle cx="455.3" cy="294.1" r="1.82" fill="#850a30"/><circle cx="455.7" cy="291.5" r="1.82" fill="#850a30"/><circle cx="456.1" cy="283.0" r="1.82" fill="#850a30"/><circle cx="456.5" cy="284.9" r="1.82" fill="#850a30"/><circle cx="457.0" cy="294.2" r="1.82" fill="#850a30"/><circle cx="457.4" cy="289.5" r="1.82" fill="#850a30"/><circle cx="457.8" cy="290.7" r="1.82" fill="#850a30"/><circle cx="458.2" cy="292.5" r="1.82" fill="#850a30"/><circle cx="458.6" cy="290.1" r="1.82" fill="#850a30"/><circle cx="459.0" cy="289.5" r="1.82" fill="#850a30"/><circle cx="459.4" cy="286.9" r="1.82" fill="#850a30"/><circle cx="459.8" cy="288.8" r="1.82" fill="#850a30"/><circle cx="460.2" cy="290.7" r="1.82" fill="#850a30"/><circle cx="460.6" cy="290.7" r="1.82" fill="#850a30"/><circle cx="461.0" cy="291.3" r="1.82" fill="#850a30"/><circle cx="461.4" cy="292.4" r="1.82" fill="#850a30"/><circle cx="461.8" cy="289.2" r="1.82" fill="#850a30"/><circle cx="462.2" cy="290.2" r="1.82" fill="#850a30"/><circle cx="462.7" cy="291.9" r="1.82" fill="#850a30"/><circle cx="463.1" cy="295.0" r="1.82" fill="#850a30"/><circle cx="463.5" cy="288.2" r="1.82" fill="#850a30"/><circle cx="463.9" cy="293.7" r="1.82" fill="#850a30"/><circle cx="464.3" cy="292.2" r="1.82" fill="#850a30"/><circle cx="464.7" cy="293.9" r="1.82" fill="#850a30"/><circle cx="465.1" cy="290.8" r="1.82" fill="#850a30"/><circle cx="465.5" cy="285.3" r="1.82" fill="#850a30"/><circle cx="465.9" cy="292.3" r="1.82" fill="#850a30"/><circle cx="466.3" cy="290.1" r="1.82" fill="#850a30"/><circle cx="466.7" cy="288.4" r="1.82" fill="#850a30"/><circle cx="467.1" cy="289.5" r="1.82" fill="#850a30"/><circle cx="467.5" cy="293.7" r="1.82" fill="#850a30"/><circle cx="467.9" cy="289.8" r="1.82" fill="#850a30"/><circle cx="468.4" cy="294.3" r="1.82" fill="#850a30"/><circle cx="468.8" cy="291.1" r="1.82" fill="#850a30"/><circle cx="469.2" cy="290.7" r="1.82" fill="#850a30"/><circle cx="469.6" cy="291.1" r="1.82" fill="#850a30"/><circle cx="470.0" cy="291.4" r="1.82" fill="#850a30"/><circle cx="470.4" cy="290.7" r="1.82" fill="#850a30"/><circle cx="470.8" cy="289.0" r="1.82" fill="#850a30"/><circle cx="471.2" cy="289.2" r="1.82" fill="#850a30"/><circle cx="471.6" cy="290.0" r="1.82" fill="#850a30"/><circle cx="472.0" cy="292.7" r="1.82" fill="#850a30"/><circle cx="472.4" cy="295.5" r="1.82" fill="#850a30"/><circle cx="472.8" cy="293.5" r="1.82" fill="#850a30"/><circle cx="473.2" cy="292.2" r="1.82" fill="#850a30"/><circle cx="473.7" cy="290.8" r="1.82" fill="#850a30"/><circle cx="474.1" cy="285.6" r="1.82" fill="#850a30"/><circle cx="474.5" cy="284.2" r="1.82" fill="#850a30"/><circle cx="474.9" cy="289.2" r="1.82" fill="#850a30"/><circle cx="475.3" cy="292.7" r="1.82" fill="#850a30"/><circle cx="475.7" cy="284.2" r="1.82" fill="#850a30"/><circle cx="476.1" cy="286.2" r="1.82" fill="#850a30"/><circle cx="476.5" cy="289.6" r="1.82" fill="#850a30"/><circle cx="476.9" cy="288.2" r="1.82" fill="#850a30"/><circle cx="477.3" cy="283.5" r="1.82" fill="#850a30"/><circle cx="477.7" cy="294.9" r="1.82" fill="#850a30"/><circle cx="478.1" cy="288.0" r="1.82" fill="#850a30"/><circle cx="478.5" cy="282.5" r="1.82" fill="#850a30"/><circle cx="478.9" cy="289.4" r="1.82" fill="#850a30"/><circle cx="479.4" cy="293.6" r="1.82" fill="#850a30"/><circle cx="479.8" cy="285.7" r="1.82" fill="#850a30"/><circle cx="480.2" cy="287.0" r="1.82" fill="#850a30"/><circle cx="480.6" cy="285.2" r="1.82" fill="#850a30"/><circle cx="481.0" cy="293.5" r="1.82" fill="#850a30"/><circle cx="481.4" cy="290.2" r="1.82" fill="#850a30"/><circle cx="481.8" cy="279.6" r="1.82" fill="#850a30"/><circle cx="482.2" cy="287.0" r="1.82" fill="#850a30"/><circle cx="482.6" cy="284.7" r="1.82" fill="#850a30"/><circle cx="483.0" cy="283.1" r="1.82" fill="#850a30"/><circle cx="483.4" cy="276.8" r="1.82" fill="#850a30"/><circle cx="483.8" cy="280.7" r="1.82" fill="#850a30"/><circle cx="484.2" cy="287.4" r="1.82" fill="#850a30"/><circle cx="484.6" cy="285.9" r="1.82" fill="#850a30"/><circle cx="485.1" cy="284.0" r="1.82" fill="#850a30"/><circle cx="485.5" cy="285.0" r="1.82" fill="#850a30"/><circle cx="485.9" cy="284.2" r="1.82" fill="#850a30"/><circle cx="486.3" cy="282.0" r="1.82" fill="#850a30"/><circle cx="486.7" cy="283.1" r="1.82" fill="#850a30"/><circle cx="487.1" cy="275.0" r="1.82" fill="#850a30"/><circle cx="487.5" cy="276.2" r="1.82" fill="#850a30"/><circle cx="487.9" cy="277.6" r="1.82" fill="#850a30"/><circle cx="488.3" cy="279.4" r="1.82" fill="#850a30"/><circle cx="488.7" cy="274.9" r="1.82" fill="#850a30"/><circle cx="489.1" cy="276.5" r="1.82" fill="#850a30"/><circle cx="489.5" cy="280.5" r="1.82" fill="#850a30"/><circle cx="489.9" cy="274.7" r="1.82" fill="#850a30"/><circle cx="490.4" cy="270.8" r="1.82" fill="#850a30"/><circle cx="490.8" cy="267.2" r="1.82" fill="#850a30"/><circle cx="491.2" cy="279.6" r="1.82" fill="#850a30"/><circle cx="491.6" cy="279.0" r="1.82" fill="#850a30"/><circle cx="492.0" cy="276.9" r="1.82" fill="#850a30"/><circle cx="492.4" cy="277.3" r="1.82" fill="#850a30"/><circle cx="492.8" cy="269.6" r="1.82" fill="#850a30"/><circle cx="493.2" cy="276.3" r="1.82" fill="#850a30"/><circle cx="493.6" cy="263.7" r="1.82" fill="#850a30"/><circle cx="494.0" cy="272.8" r="1.82" fill="#850a30"/><circle cx="494.4" cy="272.8" r="1.82" fill="#850a30"/><circle cx="494.8" cy="273.8" r="1.82" fill="#850a30"/><circle cx="495.2" cy="273.4" r="1.82" fill="#850a30"/><circle cx="495.6" cy="273.1" r="1.82" fill="#850a30"/><circle cx="496.1" cy="275.2" r="1.82" fill="#850a30"/><circle cx="496.5" cy="266.4" r="1.82" fill="#850a30"/><circle cx="496.9" cy="281.7" r="1.82" fill="#850a30"/><circle cx="497.3" cy="264.3" r="1.82" fill="#850a30"/><circle cx="497.7" cy="276.4" r="1.82" fill="#850a30"/><circle cx="498.1" cy="264.8" r="1.82" fill="#850a30"/><circle cx="498.5" cy="268.2" r="1.82" fill="#850a30"/><circle cx="498.9" cy="278.6" r="1.82" fill="#850a30"/><circle cx="499.3" cy="269.0" r="1.82" fill="#850a30"/><circle cx="499.7" cy="271.6" r="1.82" fill="#850a30"/><circle cx="500.1" cy="276.7" r="1.82" fill="#850a30"/><circle cx="500.5" cy="275.9" r="1.82" fill="#850a30"/><circle cx="500.9" cy="266.1" r="1.82" fill="#850a30"/><circle cx="501.3" cy="270.6" r="1.82" fill="#850a30"/><circle cx="501.8" cy="279.5" r="1.82" fill="#850a30"/><circle cx="502.2" cy="264.7" r="1.82" fill="#850a30"/><circle cx="502.6" cy="261.2" r="1.82" fill="#850a30"/><circle cx="503.0" cy="279.3" r="1.82" fill="#850a30"/><circle cx="503.4" cy="269.3" r="1.82" fill="#850a30"/><circle cx="503.8" cy="271.9" r="1.82" fill="#850a30"/><circle cx="504.2" cy="269.3" r="1.82" fill="#850a30"/><circle cx="504.6" cy="263.3" r="1.82" fill="#850a30"/><circle cx="505.0" cy="259.5" r="1.82" fill="#850a30"/><circle cx="505.4" cy="262.5" r="1.82" fill="#850a30"/><circle cx="505.8" cy="277.3" r="1.82" fill="#850a30"/><circle cx="506.2" cy="269.1" r="1.82" fill="#850a30"/><circle cx="506.6" cy="266.0" r="1.82" fill="#850a30"/><circle cx="507.0" cy="271.4" r="1.82" fill="#850a30"/><circle cx="507.5" cy="269.3" r="1.82" fill="#850a30"/><circle cx="507.9" cy="277.1" r="1.82" fill="#850a30"/><circle cx="286.0" cy="231.0" r="1.82" fill="#850a30"/><circle cx="304.0" cy="255.5" r="1.82" fill="#850a30"/><circle cx="325.5" cy="225.0" r="1.82" fill="#850a30"/><circle cx="328.0" cy="225.0" r="1.82" fill="#850a30"/><circle cx="504.0" cy="248.0" r="1.82" fill="#850a30"/><circle cx="502.0" cy="258.0" r="1.82" fill="#850a30"/><circle cx="508.0" cy="260.0" r="1.82" fill="#850a30"/>
</g>
<line x1="55" x2="55" y1="2.7" y2="304.45" stroke="#1c1c1c" stroke-width="1.5"/>
<line x1="54.25" x2="518" y1="303.75" y2="303.75" stroke="#1c1c1c" stroke-width="1.5"/>
<line x1="49.2" x2="55" y1="295.0" y2="295.0" stroke="#1c1c1c" stroke-width="1.4"/><text transform="translate(45.7,299.9) scale(0.945,1)" text-anchor="end" font-size="14">0</text><line x1="49.2" x2="55" y1="224.1" y2="224.1" stroke="#1c1c1c" stroke-width="1.4"/><text transform="translate(45.7,229.0) scale(0.945,1)" text-anchor="end" font-size="14">50</text><line x1="49.2" x2="55" y1="153.2" y2="153.2" stroke="#1c1c1c" stroke-width="1.4"/><text transform="translate(45.7,158.1) scale(0.945,1)" text-anchor="end" font-size="14">100</text><line x1="49.2" x2="55" y1="82.4" y2="82.4" stroke="#1c1c1c" stroke-width="1.4"/><text transform="translate(45.7,87.2) scale(0.945,1)" text-anchor="end" font-size="14">150</text><line x1="49.2" x2="55" y1="11.5" y2="11.5" stroke="#1c1c1c" stroke-width="1.4"/><text transform="translate(45.7,16.4) scale(0.945,1)" text-anchor="end" font-size="14">200</text>
<line x1="63.5" x2="63.5" y1="304" y2="309.6" stroke="#1c1c1c" stroke-width="1.4"/><text transform="translate(68.8,317.7) rotate(-45)" text-anchor="end" font-size="13.8">01jan2021</text><line x1="212.2" x2="212.2" y1="304" y2="309.6" stroke="#1c1c1c" stroke-width="1.4"/><text transform="translate(217.5,317.7) rotate(-45)" text-anchor="end" font-size="13.8">01jan2022</text><line x1="360.8" x2="360.8" y1="304" y2="309.6" stroke="#1c1c1c" stroke-width="1.4"/><text transform="translate(366.2,317.7) rotate(-45)" text-anchor="end" font-size="13.8">01jan2023</text><line x1="509.5" x2="509.5" y1="304" y2="309.6" stroke="#1c1c1c" stroke-width="1.4"/><text transform="translate(514.8,317.7) rotate(-45)" text-anchor="end" font-size="13.8">01jan2024</text>
<text transform="translate(12.2,153.5) rotate(-90)" text-anchor="middle" font-size="13.5" letter-spacing="0.11">Daily number of births</text>
<g font-size="8.7" text-anchor="middle" class="sm">
<text x="110.5" y="226.3">Covid-19 vaccination</text>
<text x="110.5" y="235.4">recommended for all</text>
<text x="110.5" y="244.4">pregnant women from</text>
<text x="110.5" y="253.4">18th August 2021</text>
</g>
<g font-size="8.7" class="sm">
<text x="362" y="226.9">Covid-19 booster</text>
<text x="362" y="235.8">recommended in pregnancy</text>
<text x="362" y="244.8">from 28th November 2022</text>
</g>
<rect x="324.6" y="8.3" width="188.7" height="32" fill="#fff" stroke="#111" stroke-width="1.4"/>
<ellipse cx="330.3" cy="17.7" rx="1.9" ry="1.6" fill="#08289a"/>
<ellipse cx="330.3" cy="30.5" rx="1.9" ry="1.6" fill="#850a30"/>
<text class="sm" x="336" y="20.8" font-size="8.5">Unexposed</text>
<text class="sm" x="336" y="33.6" font-size="8.5">Exposed to maternal vaccination in pregnancy</text>
</svg>
</body></html>
